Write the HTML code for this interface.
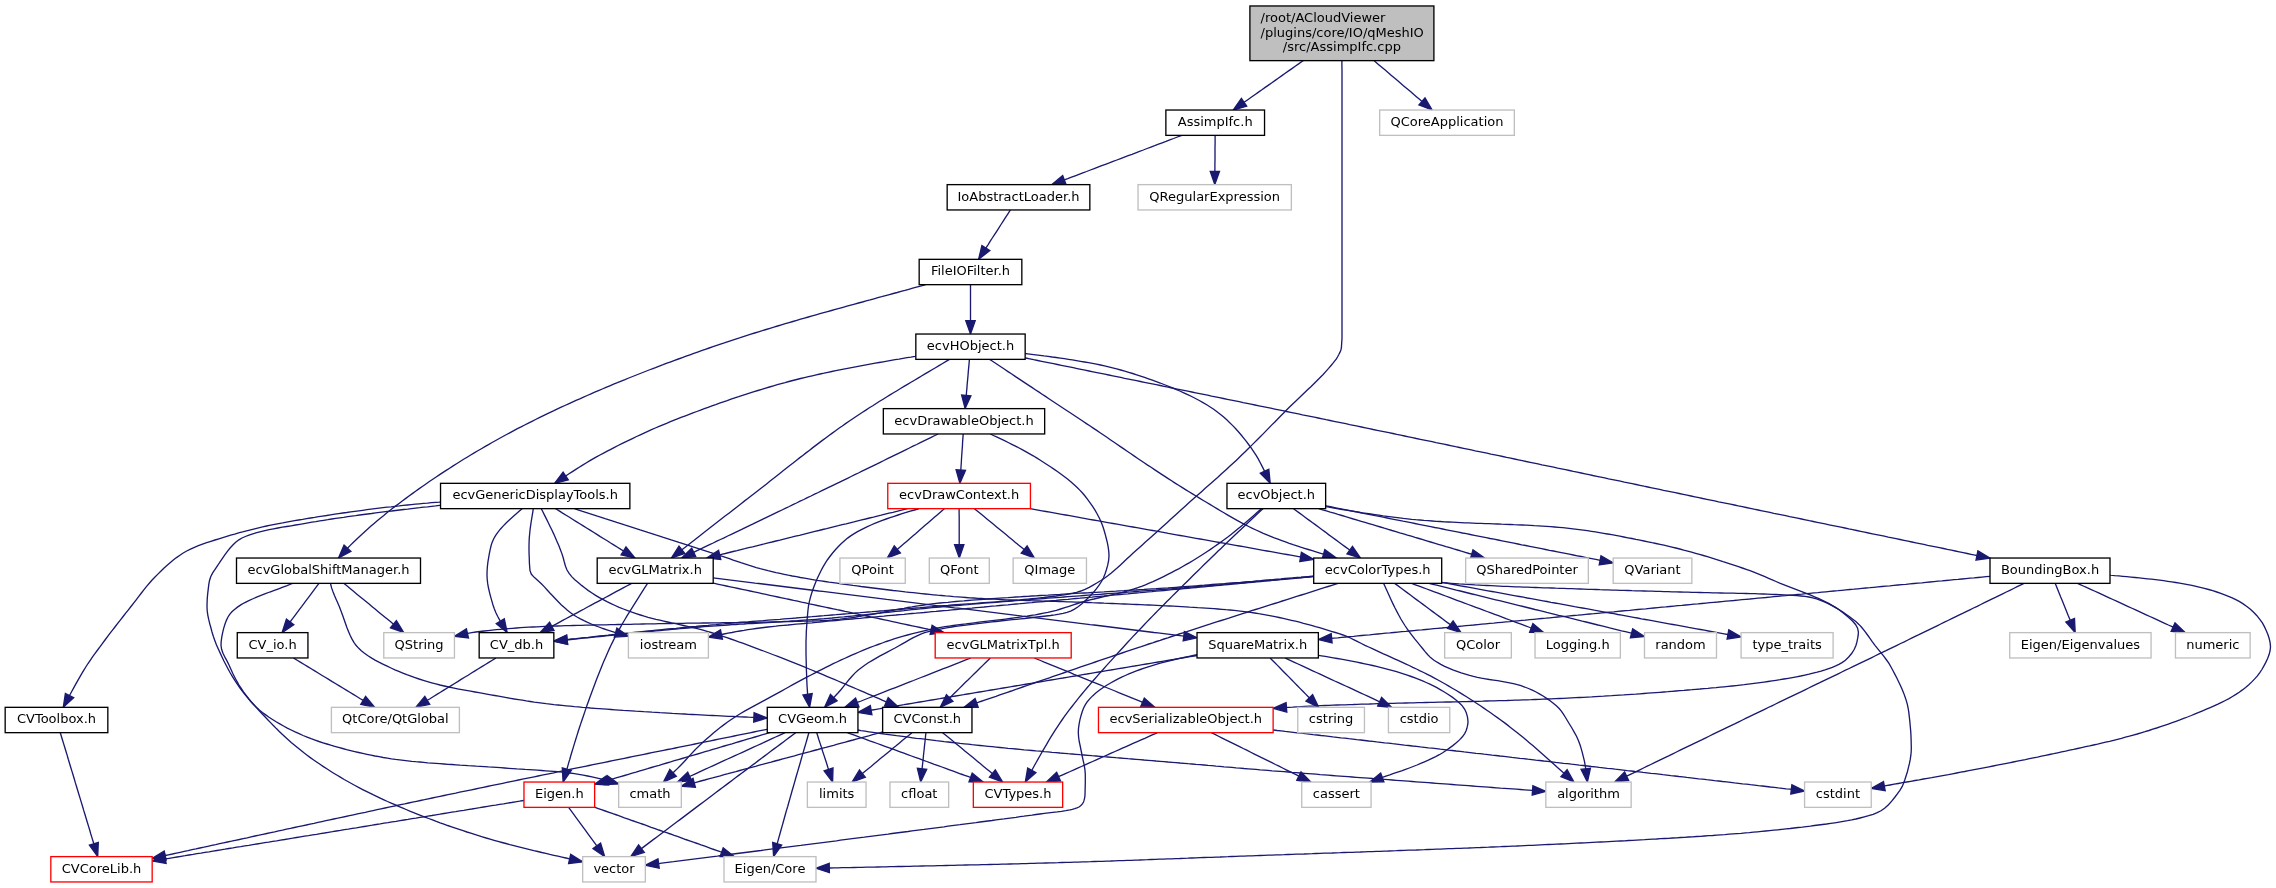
<!DOCTYPE html><html><head><meta charset="utf-8"><title>AssimpIfc.cpp include graph</title><style>html,body{margin:0;padding:0;background:#fff}svg{display:block;will-change:transform}text{font-family:"DejaVu Sans","Liberation Sans",sans-serif;font-size:13px;fill:#000}.e path{fill:none;stroke:#191970;stroke-width:1.33}.e polygon{fill:#191970;stroke:#191970;stroke-width:1.33}</style></head><body>
<svg width="2276" height="888" viewBox="0 0 2276 888">
<rect width="2276" height="888" fill="#fff"/>
<g class="e">
<path d="M1303.2,60.6 L1301.9,61.5 L1298.6,63.9 L1295.2,66.2 L1291.9,68.6 L1288.6,70.9 L1285.2,73.3 L1281.9,75.6 L1278.6,78.0 L1275.2,80.4 L1271.9,82.7 L1268.5,85.1 L1265.2,87.4 L1261.9,89.8 L1258.5,92.1 L1255.2,94.5 L1251.9,96.8 L1248.5,99.2 L1245.2,101.5 L1244.0,102.3"/><polygon points="1241.4,98.5 1233.2,110.0 1246.7,106.2"/>
<path d="M1341.9,60.6 L1341.9,61.7 L1341.9,65.8 L1342.0,69.9 L1342.0,73.9 L1342.0,78.0 L1342.0,82.1 L1342.0,86.1 L1342.0,90.2 L1342.0,94.3 L1342.0,98.3 L1342.0,102.4 L1342.0,106.4 L1342.0,110.5 L1342.0,114.6 L1342.0,118.6 L1342.0,122.7 L1342.0,126.7 L1342.0,130.8 L1342.0,134.8 L1342.0,138.8 L1342.0,142.9 L1342.0,146.9 L1342.0,150.9 L1342.0,155.0 L1342.0,159.0 L1342.0,163.1 L1342.0,167.1 L1342.0,171.1 L1342.0,175.2 L1342.0,179.2 L1342.0,183.2 L1342.0,187.3 L1342.0,191.3 L1342.0,195.3 L1342.0,199.4 L1342.0,203.4 L1342.0,207.4 L1342.0,211.5 L1342.0,215.5 L1342.0,219.5 L1342.0,223.6 L1342.0,227.6 L1342.0,231.6 L1342.0,235.7 L1342.0,239.7 L1342.0,243.8 L1342.0,247.8 L1342.0,251.8 L1342.0,255.9 L1342.0,259.9 L1342.0,263.9 L1342.0,268.0 L1342.0,272.0 L1342.0,276.2 L1342.0,280.4 L1342.0,284.6 L1342.0,288.8 L1342.0,293.0 L1342.0,297.2 L1342.0,301.4 L1342.0,305.6 L1342.0,309.8 L1342.0,314.0 L1342.0,318.2 L1342.0,322.4 L1342.0,326.6 L1342.0,330.8 L1342.0,335.0 L1342.0,338.2 L1341.8,341.4 L1341.6,344.5 L1341.4,347.6 L1340.9,350.0 L1339.9,352.4 L1338.7,354.8 L1337.5,357.0 L1336.2,359.2 L1334.6,361.2 L1333.0,363.2 L1331.3,365.2 L1328.6,368.4 L1325.7,371.6 L1322.9,374.7 L1319.9,377.7 L1316.9,380.7 L1313.9,383.7 L1310.9,386.7 L1307.8,389.6 L1304.7,392.6 L1301.6,395.5 L1298.5,398.5 L1295.4,401.4 L1292.4,404.3 L1289.3,407.3 L1286.3,410.3 L1283.4,413.3 L1280.4,416.2 L1277.5,419.2 L1274.6,422.2 L1271.6,425.1 L1268.7,428.1 L1265.8,431.1 L1262.9,434.1 L1260.0,437.0 L1257.0,440.0 L1254.1,442.9 L1251.1,445.9 L1248.2,448.8 L1245.2,451.7 L1242.2,454.6 L1239.2,457.5 L1236.2,460.4 L1233.1,463.3 L1230.0,466.1 L1226.9,469.0 L1223.8,471.8 L1220.7,474.6 L1217.6,477.5 L1214.4,480.3 L1211.3,483.1 L1208.1,485.8 L1204.9,488.6 L1201.8,491.4 L1198.6,494.2 L1195.4,497.0 L1192.3,499.8 L1189.1,502.6 L1186.0,505.4 L1182.9,508.2 L1179.8,511.0 L1176.6,513.9 L1173.5,516.7 L1170.4,519.5 L1167.3,522.4 L1164.2,525.2 L1161.1,528.0 L1157.9,530.9 L1154.8,533.7 L1151.7,536.5 L1148.6,539.3 L1145.4,542.1 L1142.3,544.9 L1139.2,547.7 L1136.0,550.5 L1132.9,553.3 L1129.8,556.2 L1126.7,559.1 L1123.6,562.0 L1120.5,564.9 L1117.4,567.8 L1114.2,570.6 L1111.0,573.3 L1107.8,575.8 L1104.4,578.3 L1101.0,580.5 L1097.2,582.8 L1093.2,585.1 L1089.2,587.3 L1085.0,589.3 L1080.8,591.0 L1076.6,592.3 L1072.6,593.2 L1068.6,594.0 L1064.5,594.8 L1060.3,595.4 L1056.1,596.0 L1051.9,596.5 L1047.8,597.0 L1043.8,597.5 L1039.9,597.9 L1035.9,598.3 L1031.9,598.7 L1027.9,599.1 L1023.9,599.5 L1019.9,599.9 L1016.0,600.2 L1012.0,600.5 L1008.0,600.9 L1004.0,601.2 L1000.0,601.5 L996.0,601.8 L992.0,602.1 L988.0,602.4 L984.0,602.7 L980.0,603.0 L976.0,603.3 L972.0,603.6 L968.0,603.8 L964.0,604.1 L960.0,604.4 L956.0,604.7 L952.0,605.0 L948.0,605.4 L944.0,605.7 L940.0,606.0 L936.0,606.3 L932.0,606.7 L928.0,607.0 L924.0,607.3 L920.0,607.7 L916.0,608.0 L912.0,608.3 L908.0,608.7 L904.0,609.0 L900.0,609.3 L896.0,609.7 L892.0,610.0 L888.0,610.3 L884.0,610.7 L880.0,611.0 L876.0,611.3 L872.0,611.7 L868.0,612.0 L864.0,612.3 L860.0,612.7 L856.0,613.0 L852.0,613.3 L848.0,613.7 L844.0,614.0 L840.0,614.3 L836.0,614.7 L832.0,615.0 L828.0,615.3 L824.0,615.7 L820.0,616.0 L816.0,616.3 L812.0,616.7 L808.0,617.0 L804.0,617.3 L800.0,617.6 L796.0,618.0 L792.0,618.3 L788.0,618.6 L784.0,618.9 L780.0,619.3 L776.0,619.6 L772.0,619.9 L768.0,620.2 L764.0,620.6 L760.0,620.9 L756.0,621.2 L752.0,621.5 L748.0,621.9 L744.0,622.2 L740.0,622.5 L736.0,622.9 L732.0,623.2 L728.0,623.5 L724.0,623.9 L720.0,624.2 L716.0,624.6 L712.0,624.9 L708.0,625.3 L704.0,625.6 L700.0,626.0 L696.0,626.4 L692.0,626.7 L688.0,627.1 L684.0,627.5 L680.0,627.9 L676.0,628.3 L672.0,628.6 L668.0,629.0 L664.0,629.4 L660.0,629.8 L656.0,630.2 L652.0,630.6 L648.0,631.0 L644.0,631.4 L640.0,631.8 L636.0,632.2 L632.0,632.7 L628.0,633.1 L624.0,633.5 L620.0,633.9 L616.0,634.3 L612.0,634.7 L608.0,635.2 L604.0,635.6 L600.0,636.0 L596.0,636.4 L592.0,636.8 L588.1,637.3 L584.1,637.7 L580.1,638.1 L576.1,638.6 L572.2,639.0 L568.2,639.5 L567.1,639.6"/><polygon points="566.6,635.0 553.8,641.1 567.6,644.2"/>
<path d="M1374.0,60.6 L1375.9,62.2 L1379.0,64.9 L1382.1,67.5 L1385.2,70.1 L1388.3,72.7 L1391.4,75.4 L1394.5,78.0 L1397.5,80.6 L1400.6,83.3 L1403.7,85.9 L1406.8,88.5 L1409.9,91.1 L1413.0,93.8 L1416.1,96.4 L1419.2,99.0 L1422.0,101.4"/><polygon points="1418.9,104.9 1432.1,110.0 1425.0,97.8"/>
<path d="M1181.8,135.4 L1181.2,135.6 L1177.4,137.0 L1173.6,138.5 L1169.8,139.9 L1166.0,141.4 L1162.2,142.8 L1158.5,144.2 L1154.7,145.7 L1150.9,147.1 L1147.1,148.5 L1143.3,150.0 L1139.5,151.4 L1135.8,152.8 L1132.0,154.3 L1128.2,155.7 L1124.4,157.1 L1120.6,158.6 L1116.9,160.0 L1113.1,161.4 L1109.3,162.9 L1105.5,164.3 L1101.7,165.7 L1097.9,167.2 L1094.2,168.6 L1090.4,170.0 L1086.6,171.5 L1082.8,172.9 L1079.0,174.3 L1075.2,175.8 L1071.5,177.2 L1067.7,178.7 L1064.4,179.9"/><polygon points="1062.7,175.5 1051.9,184.6 1066.0,184.3"/>
<path d="M1215.1,135.4 L1215.1,139.3 L1215.1,143.4 L1215.0,147.6 L1215.0,151.7 L1215.0,155.9 L1215.0,160.0 L1214.9,164.1 L1214.9,168.3 L1214.9,171.3"/><polygon points="1210.2,171.3 1214.8,184.6 1219.5,171.3"/>
<path d="M1010.4,210.0 L1009.8,210.9 L1007.6,214.3 L1005.4,217.7 L1003.2,221.1 L1001.0,224.5 L998.9,227.9 L996.7,231.3 L994.5,234.7 L992.3,238.0 L990.1,241.4 L988.0,244.8 L985.8,248.1"/><polygon points="981.9,245.6 978.6,259.3 989.8,250.6"/>
<path d="M970.5,284.7 L970.5,288.6 L970.5,292.8 L970.5,296.9 L970.5,301.0 L970.5,305.2 L970.5,309.4 L970.5,313.5 L970.5,317.6 L970.5,320.7"/><polygon points="965.8,320.7 970.5,334.0 975.2,320.7"/>
<path d="M925.6,284.7 L924.2,285.1 L920.4,286.1 L916.5,287.2 L912.7,288.2 L908.8,289.3 L904.9,290.4 L901.0,291.4 L897.2,292.5 L893.3,293.5 L889.4,294.6 L885.6,295.6 L881.7,296.7 L877.8,297.7 L874.0,298.8 L870.1,299.9 L866.2,300.9 L862.4,302.0 L858.5,303.0 L854.6,304.1 L850.8,305.1 L846.9,306.2 L843.0,307.3 L839.2,308.3 L835.3,309.4 L831.5,310.5 L827.6,311.6 L823.7,312.7 L819.9,313.7 L816.0,314.8 L812.2,315.9 L808.3,317.0 L804.5,318.1 L800.6,319.2 L796.8,320.3 L792.9,321.5 L789.1,322.6 L785.3,323.7 L781.4,324.9 L777.6,326.0 L773.8,327.2 L770.0,328.3 L766.1,329.5 L762.3,330.7 L758.5,331.8 L754.7,333.0 L750.9,334.2 L747.1,335.4 L743.3,336.6 L739.5,337.9 L735.7,339.1 L731.9,340.3 L728.1,341.6 L724.3,342.9 L720.5,344.1 L716.8,345.4 L713.0,346.7 L709.2,348.0 L705.3,349.4 L701.5,350.7 L697.6,352.1 L693.8,353.4 L690.0,354.8 L686.1,356.2 L682.3,357.6 L678.4,359.0 L674.6,360.4 L670.8,361.8 L666.9,363.2 L663.1,364.7 L659.3,366.1 L655.5,367.6 L651.6,369.0 L647.8,370.5 L644.0,372.0 L640.2,373.5 L636.4,375.0 L632.6,376.5 L628.8,378.0 L625.0,379.6 L621.2,381.1 L617.4,382.7 L613.6,384.2 L609.8,385.8 L606.0,387.4 L602.3,389.0 L598.5,390.6 L594.7,392.2 L591.0,393.8 L587.2,395.5 L583.5,397.1 L579.8,398.8 L576.0,400.4 L572.3,402.1 L568.6,403.8 L564.9,405.5 L561.2,407.2 L557.5,408.9 L553.9,410.7 L550.2,412.4 L546.5,414.2 L542.9,415.9 L539.3,417.7 L535.6,419.5 L532.0,421.3 L528.4,423.1 L524.7,425.0 L521.1,426.9 L517.4,428.7 L513.8,430.7 L510.2,432.6 L506.6,434.5 L502.9,436.5 L499.3,438.5 L495.7,440.5 L492.1,442.5 L488.5,444.6 L484.9,446.6 L481.4,448.7 L477.8,450.8 L474.2,452.9 L470.7,455.0 L467.1,457.2 L463.6,459.3 L460.1,461.5 L456.6,463.7 L453.1,465.9 L449.6,468.2 L446.2,470.4 L442.7,472.6 L439.3,474.9 L435.8,477.2 L432.4,479.5 L429.0,481.8 L425.6,484.2 L422.3,486.5 L418.9,488.9 L415.6,491.2 L412.3,493.6 L409.0,496.0 L405.8,498.4 L402.6,500.8 L399.4,503.2 L396.2,505.6 L393.0,508.1 L389.8,510.6 L386.6,513.1 L383.5,515.7 L380.3,518.2 L377.2,520.8 L374.1,523.5 L371.0,526.1 L368.0,528.8 L365.0,531.5 L362.0,534.2 L359.0,537.0 L356.1,539.7 L353.2,542.5 L350.3,545.4 L347.5,548.2 L347.5,548.2"/><polygon points="344.1,545.1 338.5,558.0 350.9,551.4"/>
<path d="M915.8,356.2 L915.0,356.4 L911.0,357.1 L907.0,357.7 L903.0,358.4 L899.1,359.1 L895.1,359.7 L891.1,360.4 L887.1,361.1 L883.2,361.8 L879.2,362.5 L875.2,363.2 L871.3,363.9 L867.3,364.6 L863.4,365.3 L859.4,366.1 L855.5,366.8 L851.5,367.6 L847.6,368.3 L843.6,369.1 L839.7,369.9 L835.8,370.7 L831.8,371.5 L827.9,372.3 L824.0,373.2 L820.1,374.0 L816.2,374.9 L812.3,375.8 L808.4,376.7 L804.5,377.6 L800.6,378.5 L796.7,379.5 L792.8,380.5 L788.9,381.5 L785.1,382.6 L781.2,383.6 L777.3,384.7 L773.4,385.8 L769.5,387.0 L765.7,388.1 L761.8,389.3 L757.9,390.5 L754.1,391.7 L750.2,392.9 L746.4,394.1 L742.5,395.4 L738.7,396.7 L734.8,397.9 L731.0,399.2 L727.2,400.6 L723.4,401.9 L719.5,403.2 L715.7,404.6 L711.9,405.9 L708.1,407.3 L704.3,408.7 L700.6,410.1 L696.8,411.5 L693.0,412.9 L689.2,414.4 L685.5,415.8 L681.7,417.2 L678.0,418.7 L674.2,420.2 L670.4,421.7 L666.6,423.3 L662.8,424.8 L659.1,426.4 L655.3,428.0 L651.5,429.7 L647.8,431.4 L644.0,433.1 L640.3,434.8 L636.6,436.5 L632.9,438.3 L629.2,440.1 L625.5,441.9 L621.8,443.7 L618.1,445.5 L614.5,447.4 L610.8,449.3 L607.2,451.2 L603.6,453.1 L600.0,455.0 L596.5,456.9 L593.0,458.9 L589.5,460.9 L586.1,463.0 L582.6,465.1 L579.2,467.2 L575.8,469.4 L572.4,471.6 L569.0,473.8 L565.7,476.0"/><polygon points="563.1,472.1 554.6,483.3 568.3,479.9"/>
<path d="M949.5,359.4 L946.1,361.4 L942.6,363.5 L939.0,365.6 L935.5,367.7 L932.0,369.8 L928.5,371.8 L925.0,373.9 L921.5,376.0 L918.0,378.1 L914.5,380.2 L911.0,382.3 L907.5,384.3 L904.0,386.4 L900.5,388.5 L897.0,390.7 L893.5,392.8 L890.0,394.9 L886.6,397.0 L883.1,399.2 L879.6,401.3 L876.2,403.5 L872.8,405.7 L869.3,407.8 L865.9,410.1 L862.5,412.3 L859.1,414.5 L855.7,416.8 L852.4,419.0 L849.0,421.3 L845.6,423.6 L842.3,426.0 L838.9,428.3 L835.6,430.7 L832.3,433.1 L829.0,435.5 L825.7,438.0 L822.4,440.4 L819.1,442.9 L815.8,445.4 L812.5,447.9 L809.3,450.4 L806.0,452.9 L802.8,455.4 L799.5,457.9 L796.3,460.4 L793.1,463.0 L789.8,465.5 L786.6,468.1 L783.4,470.6 L780.1,473.2 L776.9,475.7 L773.7,478.3 L770.4,480.8 L767.2,483.4 L764.0,485.9 L760.7,488.4 L757.5,491.0 L754.3,493.5 L751.0,496.0 L747.8,498.5 L744.6,500.9 L741.4,503.4 L738.2,505.9 L735.0,508.4 L731.8,510.9 L728.6,513.4 L725.4,515.8 L722.2,518.3 L719.0,520.8 L715.8,523.3 L712.6,525.8 L709.4,528.3 L706.2,530.8 L703.0,533.3 L699.9,535.8 L696.7,538.3 L693.5,540.8 L690.3,543.3 L687.1,545.8 L683.9,548.3 L681.9,549.8"/><polygon points="679.0,546.1 671.4,558.0 684.8,553.5"/>
<path d="M969.4,359.4 L969.1,363.3 L968.7,367.4 L968.3,371.6 L968.0,375.7 L967.6,379.9 L967.2,384.0 L966.9,388.1 L966.5,392.3 L966.3,395.4"/><polygon points="961.6,394.9 965.1,408.6 970.9,395.8"/>
<path d="M989.6,359.4 L991.0,360.3 L994.4,362.5 L997.8,364.8 L1001.2,367.0 L1004.6,369.3 L1008.0,371.6 L1011.4,373.8 L1014.8,376.1 L1018.2,378.4 L1021.6,380.6 L1025.0,382.9 L1028.4,385.1 L1031.9,387.4 L1035.3,389.7 L1038.7,391.9 L1042.1,394.2 L1045.5,396.4 L1048.9,398.7 L1052.3,401.0 L1055.7,403.2 L1059.1,405.5 L1062.5,407.7 L1065.9,410.0 L1069.4,412.3 L1072.8,414.5 L1076.2,416.8 L1079.6,419.0 L1083.0,421.3 L1086.4,423.6 L1089.8,425.8 L1093.2,428.1 L1096.7,430.4 L1100.1,432.7 L1103.5,435.0 L1106.9,437.3 L1110.3,439.7 L1113.7,442.0 L1117.0,444.3 L1120.4,446.6 L1123.8,448.9 L1127.2,451.2 L1130.6,453.5 L1134.0,455.9 L1137.4,458.2 L1140.8,460.5 L1144.2,462.8 L1147.6,465.1 L1151.1,467.3 L1154.5,469.6 L1157.9,471.9 L1161.3,474.1 L1164.8,476.4 L1168.2,478.6 L1171.6,480.8 L1175.1,483.1 L1178.6,485.3 L1182.0,487.4 L1185.5,489.6 L1189.0,491.8 L1192.5,493.9 L1196.0,496.0 L1199.5,498.1 L1202.9,500.2 L1206.4,502.3 L1209.9,504.4 L1213.4,506.5 L1216.9,508.6 L1220.4,510.7 L1223.9,512.8 L1227.4,514.9 L1230.9,516.9 L1234.4,518.9 L1238.0,520.9 L1241.6,522.8 L1245.1,524.7 L1248.7,526.5 L1252.4,528.3 L1256.0,530.0 L1259.6,531.7 L1263.3,533.3 L1267.0,534.8 L1270.6,536.3 L1274.3,537.8 L1278.0,539.2 L1281.8,540.6 L1285.5,541.9 L1289.3,543.3 L1293.1,544.6 L1296.9,545.8 L1300.7,547.1 L1304.5,548.3 L1308.3,549.5 L1312.2,550.7 L1316.0,551.9 L1319.9,553.1 L1323.5,554.2"/><polygon points="1322.2,558.7 1336.3,558.0 1324.8,549.7"/>
<path d="M1025.2,353.5 L1027.7,353.8 L1031.7,354.3 L1035.8,354.8 L1039.9,355.3 L1044.0,355.9 L1048.1,356.4 L1052.1,357.0 L1056.2,357.5 L1060.3,358.1 L1064.3,358.7 L1068.4,359.3 L1072.4,359.9 L1076.4,360.6 L1080.5,361.3 L1084.5,362.0 L1088.5,362.7 L1092.5,363.4 L1096.5,364.2 L1100.5,365.0 L1104.6,365.9 L1108.6,366.9 L1112.6,367.9 L1116.7,368.9 L1120.7,370.0 L1124.7,371.1 L1128.7,372.3 L1132.7,373.5 L1136.7,374.8 L1140.6,376.1 L1144.6,377.4 L1148.5,378.8 L1152.4,380.2 L1156.3,381.6 L1160.2,383.0 L1164.0,384.5 L1167.9,386.0 L1171.9,387.6 L1175.9,389.3 L1179.8,391.0 L1183.8,392.8 L1187.7,394.6 L1191.7,396.5 L1195.5,398.5 L1199.3,400.5 L1203.0,402.6 L1206.7,404.8 L1210.2,407.0 L1213.7,409.3 L1217.0,411.7 L1220.2,414.2 L1223.4,416.8 L1226.5,419.5 L1229.5,422.4 L1232.5,425.4 L1235.5,428.5 L1238.4,431.7 L1241.2,435.0 L1243.9,438.3 L1246.5,441.6 L1249.0,445.0 L1251.5,448.4 L1253.8,451.8 L1256.0,455.2 L1258.1,458.7 L1260.0,462.3 L1261.9,465.9 L1263.8,469.6 L1264.6,471.3"/><polygon points="1260.3,473.2 1270.2,483.3 1268.8,469.3"/>
<path d="M1025.2,357.9 L1025.8,358.0 L1029.8,358.8 L1033.7,359.7 L1037.7,360.5 L1041.6,361.3 L1045.6,362.1 L1049.5,362.9 L1053.5,363.7 L1057.4,364.5 L1061.4,365.3 L1065.3,366.1 L1069.3,366.9 L1073.2,367.7 L1077.2,368.6 L1081.1,369.4 L1085.1,370.2 L1089.0,371.0 L1093.0,371.8 L1096.9,372.6 L1100.9,373.4 L1104.8,374.2 L1108.8,375.0 L1112.8,375.8 L1116.7,376.6 L1120.7,377.4 L1124.6,378.3 L1128.6,379.1 L1132.5,379.9 L1136.5,380.7 L1140.4,381.5 L1144.4,382.3 L1148.3,383.1 L1152.3,383.9 L1156.2,384.7 L1160.2,385.5 L1164.1,386.3 L1168.1,387.1 L1172.0,388.0 L1176.0,388.8 L1179.9,389.6 L1183.9,390.4 L1187.8,391.2 L1191.8,392.0 L1195.7,392.8 L1199.7,393.6 L1203.6,394.4 L1207.6,395.2 L1211.5,396.1 L1215.5,396.9 L1219.4,397.7 L1223.4,398.5 L1227.3,399.3 L1231.3,400.1 L1235.2,400.9 L1239.2,401.7 L1243.1,402.6 L1247.1,403.4 L1251.0,404.2 L1255.0,405.0 L1258.9,405.8 L1262.9,406.6 L1266.8,407.4 L1270.8,408.2 L1274.8,409.1 L1278.7,409.9 L1282.7,410.7 L1286.6,411.5 L1290.6,412.3 L1294.5,413.1 L1298.5,413.9 L1302.4,414.8 L1306.4,415.6 L1310.3,416.4 L1314.3,417.2 L1318.2,418.0 L1322.2,418.8 L1326.1,419.7 L1330.1,420.5 L1334.0,421.3 L1337.9,422.1 L1341.8,422.9 L1345.8,423.7 L1349.7,424.6 L1353.6,425.4 L1357.5,426.2 L1361.5,427.0 L1365.4,427.8 L1369.3,428.6 L1373.2,429.5 L1377.2,430.3 L1381.1,431.1 L1385.0,431.9 L1388.9,432.7 L1392.9,433.5 L1396.8,434.4 L1400.7,435.2 L1404.6,436.0 L1408.6,436.8 L1412.5,437.6 L1416.4,438.5 L1420.3,439.3 L1424.2,440.1 L1428.2,440.9 L1432.1,441.7 L1436.0,442.6 L1439.9,443.4 L1443.9,444.2 L1447.8,445.0 L1451.7,445.8 L1455.6,446.7 L1459.6,447.5 L1463.5,448.3 L1467.4,449.1 L1471.3,449.9 L1475.2,450.8 L1479.2,451.6 L1483.1,452.4 L1487.0,453.2 L1490.9,454.1 L1494.9,454.9 L1498.8,455.7 L1502.7,456.5 L1506.6,457.4 L1510.6,458.2 L1514.5,459.0 L1518.4,459.8 L1522.3,460.6 L1526.2,461.5 L1530.2,462.3 L1534.1,463.1 L1538.0,463.9 L1541.9,464.8 L1545.9,465.6 L1549.8,466.4 L1553.7,467.2 L1557.6,468.1 L1561.5,468.9 L1565.5,469.7 L1569.4,470.5 L1573.3,471.4 L1577.2,472.2 L1581.2,473.0 L1585.1,473.8 L1589.0,474.6 L1592.9,475.5 L1596.8,476.3 L1600.8,477.1 L1604.7,477.9 L1608.6,478.8 L1612.5,479.6 L1616.5,480.4 L1620.4,481.2 L1624.3,482.1 L1628.2,482.9 L1632.2,483.7 L1636.1,484.5 L1640.0,485.3 L1643.9,486.2 L1647.8,487.0 L1651.8,487.8 L1655.7,488.6 L1659.6,489.4 L1663.5,490.3 L1667.5,491.1 L1671.4,491.9 L1675.3,492.7 L1679.2,493.5 L1683.2,494.4 L1687.1,495.2 L1691.0,496.0 L1694.9,496.8 L1698.9,497.6 L1702.8,498.5 L1706.8,499.3 L1710.7,500.1 L1714.7,500.9 L1718.6,501.8 L1722.6,502.6 L1726.5,503.4 L1730.4,504.2 L1734.4,505.0 L1738.3,505.9 L1742.3,506.7 L1746.2,507.5 L1750.2,508.3 L1754.1,509.2 L1758.1,510.0 L1762.0,510.8 L1766.0,511.6 L1769.9,512.4 L1773.8,513.3 L1777.8,514.1 L1781.7,514.9 L1785.7,515.7 L1789.6,516.6 L1793.6,517.4 L1797.5,518.2 L1801.5,519.0 L1805.4,519.8 L1809.3,520.7 L1813.3,521.5 L1817.2,522.3 L1821.2,523.1 L1825.1,523.9 L1829.1,524.8 L1833.0,525.6 L1837.0,526.4 L1840.9,527.2 L1844.9,528.0 L1848.8,528.9 L1852.7,529.7 L1856.7,530.5 L1860.6,531.3 L1864.6,532.1 L1868.5,533.0 L1872.5,533.8 L1876.4,534.6 L1880.4,535.4 L1884.3,536.2 L1888.2,537.1 L1892.2,537.9 L1896.1,538.7 L1900.1,539.5 L1904.0,540.3 L1908.0,541.2 L1911.9,542.0 L1915.9,542.8 L1919.8,543.6 L1923.8,544.4 L1927.7,545.3 L1931.6,546.1 L1935.6,546.9 L1939.5,547.7 L1943.5,548.5 L1947.4,549.4 L1951.4,550.2 L1955.3,551.0 L1959.3,551.8 L1963.2,552.6 L1967.2,553.5 L1971.1,554.3 L1975.0,555.1 L1976.9,555.5"/><polygon points="1976.0,560.1 1990.0,558.2 1977.9,550.9"/>
<path d="M938.1,434.0 L934.9,435.5 L931.2,437.3 L927.6,439.1 L923.9,440.9 L920.3,442.7 L916.7,444.5 L913.0,446.2 L909.4,448.0 L905.7,449.8 L902.1,451.6 L898.5,453.4 L894.8,455.2 L891.2,456.9 L887.5,458.7 L883.9,460.5 L880.2,462.3 L876.6,464.1 L873.0,465.8 L869.3,467.6 L865.7,469.4 L862.0,471.2 L858.4,473.0 L854.8,474.7 L851.1,476.5 L847.5,478.3 L843.8,480.1 L840.2,481.8 L836.5,483.6 L832.9,485.4 L829.2,487.2 L825.6,488.9 L821.9,490.7 L818.3,492.5 L814.6,494.2 L811.0,496.0 L807.4,497.7 L803.8,499.5 L800.1,501.2 L796.5,503.0 L792.9,504.7 L789.3,506.5 L785.7,508.2 L782.0,510.0 L778.4,511.7 L774.8,513.4 L771.2,515.2 L767.6,516.9 L763.9,518.7 L760.3,520.4 L756.7,522.1 L753.1,523.9 L749.4,525.6 L745.8,527.3 L742.2,529.1 L738.6,530.8 L734.9,532.6 L731.3,534.3 L727.7,536.0 L724.1,537.8 L720.4,539.5 L716.8,541.2 L713.2,543.0 L709.6,544.7 L705.9,546.4 L702.3,548.2 L698.7,549.9 L695.1,551.6 L693.7,552.3"/><polygon points="691.7,548.1 681.7,558.0 695.7,556.5"/>
<path d="M963.2,434.0 L962.9,437.9 L962.6,442.1 L962.4,446.2 L962.1,450.3 L961.8,454.5 L961.5,458.7 L961.3,462.8 L961.0,467.0 L960.8,470.0"/><polygon points="956.1,469.7 959.9,483.3 965.5,470.3"/>
<path d="M990.3,434.0 L993.4,435.5 L997.1,437.2 L1000.8,438.9 L1004.5,440.7 L1008.2,442.5 L1011.8,444.3 L1015.5,446.1 L1019.1,448.0 L1022.6,449.9 L1026.2,451.8 L1029.7,453.8 L1033.2,455.8 L1036.6,457.9 L1040.0,460.0 L1043.4,462.2 L1046.9,464.5 L1050.4,466.8 L1053.9,469.1 L1057.4,471.5 L1060.8,474.0 L1064.2,476.5 L1067.5,479.1 L1070.8,481.8 L1073.9,484.5 L1076.9,487.2 L1079.8,490.1 L1082.5,493.0 L1085.0,496.0 L1087.6,499.3 L1090.1,502.8 L1092.6,506.4 L1095.0,510.1 L1097.2,514.0 L1099.3,518.0 L1101.1,522.0 L1102.7,526.0 L1104.0,530.0 L1105.2,534.2 L1106.3,538.5 L1107.4,542.8 L1108.2,547.2 L1108.8,551.6 L1109.0,556.0 L1108.6,560.6 L1107.7,565.2 L1106.4,569.7 L1105.0,574.0 L1103.5,577.8 L1101.5,581.5 L1099.1,585.2 L1096.5,588.7 L1093.8,592.0 L1091.0,595.0 L1088.1,598.0 L1084.9,601.0 L1081.6,604.0 L1078.1,606.7 L1074.5,609.1 L1070.7,611.1 L1067.0,612.4 L1063.1,613.4 L1059.0,614.2 L1054.8,614.9 L1050.5,615.5 L1046.2,616.0 L1041.8,616.5 L1037.4,617.0 L1033.0,617.5 L1028.7,618.0 L1024.6,618.5 L1020.5,618.9 L1016.4,619.3 L1012.3,619.7 L1008.2,620.1 L1004.1,620.5 L1000.0,621.0 L996.0,621.5 L992.0,621.9 L988.0,622.4 L983.9,622.8 L979.9,623.3 L975.9,623.8 L971.8,624.3 L967.8,624.8 L963.7,625.3 L959.7,625.8 L955.7,626.4 L951.8,627.0 L947.8,627.6 L943.9,628.3 L940.0,629.1 L936.1,629.9 L932.3,630.7 L928.5,631.6 L924.6,632.7 L920.8,634.2 L917.1,635.8 L913.3,637.7 L909.6,639.7 L905.9,641.8 L902.3,643.9 L898.6,646.0 L895.0,648.0 L891.2,650.0 L887.3,652.1 L883.5,654.1 L879.6,656.2 L875.8,658.4 L872.0,660.6 L868.3,662.8 L864.7,665.2 L861.3,667.7 L858.0,670.3 L854.9,673.1 L852.0,676.2 L849.1,679.5 L846.4,682.9 L843.6,686.3 L840.9,689.7 L838.0,693.0 L835.2,696.0 L833.8,697.6"/><polygon points="830.4,694.4 824.6,707.3 837.1,700.8"/>
<path d="M440.5,501.9 L439.6,502.0 L435.6,502.3 L431.5,502.7 L427.5,503.1 L423.4,503.4 L419.4,503.8 L415.4,504.2 L411.3,504.6 L407.3,505.0 L403.2,505.4 L399.2,505.9 L395.1,506.3 L391.1,506.8 L387.1,507.2 L383.0,507.7 L379.0,508.2 L374.9,508.7 L370.9,509.2 L366.9,509.7 L362.8,510.3 L358.8,510.8 L354.8,511.3 L350.7,511.9 L346.7,512.5 L342.7,513.0 L338.7,513.6 L334.7,514.2 L330.6,514.8 L326.6,515.5 L322.6,516.1 L318.6,516.7 L314.6,517.4 L310.6,518.0 L306.6,518.7 L302.6,519.4 L298.6,520.0 L294.6,520.7 L290.6,521.4 L286.6,522.1 L282.7,522.9 L278.7,523.6 L274.7,524.4 L270.7,525.2 L266.6,526.0 L262.6,526.9 L258.6,527.8 L254.6,528.8 L250.6,529.8 L246.6,530.8 L242.6,531.9 L238.6,532.9 L234.7,534.1 L230.7,535.2 L226.8,536.4 L222.8,537.6 L218.9,538.8 L215.0,540.0 L210.9,541.3 L206.7,542.7 L202.5,544.2 L198.4,545.7 L194.4,547.3 L190.5,549.1 L186.7,551.0 L183.2,553.0 L179.9,555.2 L176.5,557.6 L173.3,560.1 L170.1,562.8 L166.9,565.5 L163.8,568.3 L160.8,571.2 L157.9,574.1 L155.0,577.0 L152.1,580.0 L149.3,583.2 L146.6,586.4 L144.0,589.7 L141.4,593.0 L138.8,596.4 L136.2,599.8 L133.6,603.2 L131.0,606.5 L128.4,609.8 L125.7,613.1 L123.1,616.5 L120.5,619.8 L117.9,623.1 L115.3,626.5 L112.7,629.9 L110.1,633.2 L107.5,636.6 L105.0,640.0 L102.5,643.3 L100.1,646.7 L97.6,650.0 L95.1,653.3 L92.7,656.7 L90.4,660.1 L88.0,663.5 L85.8,667.0 L83.7,670.4 L81.6,673.9 L79.6,677.3 L77.6,680.8 L75.6,684.4 L73.7,687.9 L71.7,691.5 L69.8,695.0 L69.6,695.5"/><polygon points="65.4,693.4 63.3,707.3 73.7,697.7"/>
<path d="M440.5,505.3 L439.6,505.4 L435.6,505.9 L431.6,506.3 L427.6,506.8 L423.6,507.2 L419.6,507.7 L415.6,508.1 L411.6,508.6 L407.6,509.1 L403.6,509.5 L399.6,510.0 L395.6,510.5 L391.6,511.0 L387.6,511.4 L383.6,511.9 L379.6,512.4 L375.6,512.9 L371.6,513.5 L367.6,514.0 L363.6,514.5 L359.6,515.0 L355.6,515.6 L351.6,516.1 L347.7,516.7 L343.7,517.3 L339.7,517.8 L335.7,518.4 L331.7,519.0 L327.8,519.7 L323.8,520.3 L319.8,520.9 L315.9,521.6 L311.9,522.2 L308.0,522.9 L304.0,523.6 L299.8,524.3 L295.5,525.0 L291.1,525.8 L286.7,526.5 L282.3,527.2 L277.9,528.0 L273.5,528.8 L269.2,529.7 L264.9,530.6 L260.8,531.6 L256.7,532.7 L252.8,533.9 L249.0,535.1 L245.4,536.5 L242.0,538.0 L238.9,539.8 L236.0,542.0 L233.1,544.8 L230.3,547.8 L227.6,551.1 L225.0,554.6 L222.6,558.1 L220.2,561.6 L218.0,565.0 L215.4,568.8 L212.8,572.7 L210.7,576.8 L209.4,581.0 L208.7,585.1 L208.2,589.3 L207.7,593.6 L207.3,597.9 L207.1,602.2 L207.0,606.5 L207.2,610.8 L207.8,615.1 L208.7,619.4 L209.7,623.6 L210.9,627.8 L212.0,632.0 L213.3,636.3 L214.8,640.5 L216.4,644.7 L218.2,648.8 L220.1,652.9 L222.0,657.0 L223.9,661.0 L226.0,665.0 L228.1,669.0 L230.3,673.0 L232.6,676.8 L235.0,680.7 L237.5,684.4 L240.0,688.0 L242.5,691.3 L245.0,694.7 L247.7,697.9 L250.5,701.2 L253.3,704.3 L256.3,707.2 L259.3,710.0 L262.4,712.5 L265.7,714.9 L269.0,717.2 L272.5,719.5 L276.1,721.8 L279.8,723.9 L283.5,726.0 L287.3,728.1 L291.2,730.0 L295.1,731.9 L299.1,733.7 L303.1,735.5 L307.1,737.1 L311.1,738.7 L315.1,740.1 L319.0,741.5 L323.0,742.8 L326.9,744.0 L330.8,745.2 L334.7,746.3 L338.6,747.4 L342.6,748.5 L346.6,749.6 L350.6,750.6 L354.7,751.6 L358.7,752.5 L362.8,753.4 L366.9,754.3 L371.0,755.2 L375.0,756.0 L379.1,756.7 L383.2,757.5 L387.3,758.1 L391.4,758.8 L395.5,759.4 L399.6,759.9 L403.7,760.4 L407.7,760.8 L411.7,761.3 L415.7,761.7 L419.7,762.0 L423.7,762.4 L427.8,762.8 L431.8,763.1 L435.8,763.4 L439.9,763.7 L443.9,764.0 L447.9,764.3 L452.0,764.5 L456.0,764.8 L460.1,765.1 L464.1,765.3 L468.2,765.6 L472.2,765.8 L476.3,766.1 L480.3,766.3 L484.4,766.6 L488.4,766.9 L492.5,767.1 L496.5,767.4 L500.6,767.7 L504.6,768.0 L508.7,768.3 L512.8,768.6 L516.9,768.9 L521.0,769.1 L525.1,769.4 L529.2,769.6 L533.3,769.9 L537.4,770.2 L541.5,770.5 L545.6,770.8 L549.7,771.1 L553.7,771.4 L557.8,771.7 L561.9,772.1 L565.9,772.5 L570.0,773.0 L574.4,773.6 L578.8,774.3 L583.2,775.1 L587.6,776.0 L592.0,776.9 L596.3,777.9 L600.7,778.9 L605.0,780.0 L605.9,780.2"/><polygon points="604.6,784.7 618.7,783.9 607.2,775.7"/>
<path d="M522.1,508.7 L519.4,511.1 L516.0,514.0 L512.6,517.0 L509.3,520.0 L506.1,523.0 L503.1,526.1 L500.3,529.2 L497.8,532.4 L495.5,535.6 L493.6,539.0 L492.1,542.4 L491.0,546.0 L490.1,549.8 L489.3,553.8 L488.6,557.9 L487.9,562.2 L487.4,566.5 L487.1,570.8 L487.0,575.0 L487.2,579.3 L487.7,583.7 L488.5,588.0 L489.5,592.3 L490.6,596.6 L491.8,600.9 L493.0,605.0 L494.3,608.8 L495.8,612.5 L497.6,616.2 L499.6,619.9 L500.3,621.2"/><polygon points="496.3,623.7 507.2,632.6 504.3,618.8"/>
<path d="M533.3,508.7 L532.7,512.7 L532.0,516.8 L531.3,521.0 L530.7,525.1 L530.1,529.3 L529.7,533.5 L529.3,537.6 L529.1,541.8 L529.0,546.0 L529.0,550.2 L529.1,554.5 L529.3,558.8 L529.4,563.0 L529.7,567.0 L530.0,570.7 L531.4,574.3 L534.5,577.6 L538.1,580.8 L541.6,584.0 L544.4,586.9 L547.2,590.0 L549.9,593.0 L552.8,596.0 L555.6,599.0 L558.5,602.0 L561.4,604.9 L564.4,607.6 L567.4,610.3 L570.6,612.7 L573.7,615.0 L577.0,617.0 L580.4,618.9 L584.0,620.7 L587.6,622.4 L591.3,624.0 L595.2,625.6 L599.0,627.0 L603.0,628.5 L606.9,629.8 L610.9,631.1 L614.8,632.4 L615.6,632.6"/><polygon points="614.3,637.1 628.4,636.3 616.9,628.1"/>
<path d="M541.3,508.7 L542.6,511.3 L544.5,515.1 L546.4,518.9 L548.3,522.7 L550.1,526.5 L552.0,530.3 L553.8,534.1 L555.5,538.0 L557.2,541.9 L558.9,545.7 L560.4,549.7 L561.9,553.6 L563.2,557.8 L564.3,562.0 L565.5,566.2 L567.0,570.0 L569.1,573.4 L571.7,576.6 L574.8,579.7 L578.2,582.6 L581.6,585.4 L585.0,588.0 L588.4,590.6 L592.0,593.0 L595.6,595.4 L599.4,597.6 L603.2,599.7 L607.0,601.7 L611.0,603.6 L615.1,605.5 L619.2,607.3 L623.4,609.0 L627.6,610.6 L631.9,612.2 L636.1,613.6 L640.4,615.0 L644.2,616.2 L648.1,617.3 L652.0,618.3 L655.9,619.3 L659.8,620.2 L663.7,621.1 L667.7,622.0 L671.6,622.9 L675.6,623.7 L679.6,624.6 L683.5,625.5 L687.5,626.4 L691.4,627.3 L695.3,628.2 L699.2,629.2 L703.1,630.2 L707.0,631.3 L711.0,632.5 L715.0,633.7 L719.0,635.0 L722.9,636.3 L726.9,637.6 L730.8,639.0 L734.8,640.3 L738.7,641.8 L742.7,643.2 L746.6,644.6 L750.5,646.1 L754.4,647.6 L758.4,649.1 L762.3,650.5 L766.2,652.0 L770.1,653.5 L774.0,655.0 L777.8,656.4 L781.6,657.9 L785.4,659.4 L789.1,660.9 L792.9,662.4 L796.7,663.9 L800.5,665.4 L804.2,666.9 L808.0,668.5 L811.7,670.0 L815.5,671.6 L819.3,673.1 L823.0,674.7 L826.8,676.3 L830.5,677.9 L834.3,679.4 L838.0,681.0 L841.7,682.6 L845.5,684.2 L849.2,685.8 L852.9,687.4 L856.7,689.0 L860.4,690.6 L864.1,692.2 L867.8,693.8 L871.6,695.4 L875.3,697.1 L879.0,698.7 L882.7,700.3 L886.3,701.9"/><polygon points="884.5,706.2 898.5,707.3 888.2,697.7"/>
<path d="M555.5,508.7 L555.8,508.8 L559.2,510.9 L562.6,513.1 L566.1,515.2 L569.5,517.3 L572.9,519.5 L576.3,521.6 L579.8,523.7 L583.2,525.9 L586.6,528.0 L590.1,530.1 L593.5,532.3 L596.9,534.4 L600.3,536.6 L603.8,538.7 L607.2,540.8 L610.6,543.0 L614.1,545.1 L617.5,547.2 L620.9,549.4 L623.5,551.0"/><polygon points="621.1,554.9 634.9,558.0 626.0,547.0"/>
<path d="M574.5,508.7 L577.9,509.8 L581.8,511.1 L585.7,512.3 L589.6,513.6 L593.5,514.8 L597.4,516.1 L601.3,517.3 L605.1,518.6 L609.0,519.8 L612.9,521.1 L616.8,522.4 L620.7,523.6 L624.6,524.9 L628.5,526.1 L632.4,527.4 L636.2,528.6 L640.1,529.9 L644.0,531.1 L647.9,532.4 L651.8,533.6 L655.7,534.9 L659.6,536.1 L663.4,537.4 L667.3,538.6 L671.2,539.9 L675.1,541.1 L679.0,542.4 L682.9,543.6 L686.8,544.9 L690.7,546.1 L694.6,547.4 L698.4,548.6 L702.3,549.9 L706.2,551.1 L710.1,552.4 L714.0,553.6 L717.9,554.8 L721.7,556.1 L725.5,557.4 L729.4,558.7 L733.2,560.1 L737.1,561.4 L740.9,562.7 L744.7,563.9 L748.6,565.2 L752.5,566.4 L756.3,567.6 L760.2,568.7 L764.1,569.7 L768.0,570.7 L772.0,571.6 L776.0,572.6 L780.1,573.4 L784.1,574.3 L788.2,575.2 L792.3,576.0 L796.4,576.7 L800.4,577.5 L804.5,578.2 L808.6,578.9 L812.7,579.6 L816.8,580.3 L820.9,580.9 L825.0,581.5 L829.0,582.1 L833.0,582.6 L837.0,583.2 L841.0,583.8 L845.0,584.3 L849.0,584.8 L853.0,585.4 L857.0,585.9 L861.0,586.5 L865.1,587.0 L869.1,587.5 L873.1,588.0 L877.1,588.5 L881.1,589.0 L885.2,589.5 L889.2,590.0 L893.2,590.5 L897.2,590.9 L901.3,591.4 L905.3,591.9 L909.3,592.3 L913.3,592.7 L917.4,593.2 L921.4,593.6 L925.4,594.0 L929.5,594.4 L933.5,594.8 L937.5,595.2 L941.6,595.5 L945.6,595.9 L949.6,596.2 L953.7,596.6 L957.7,596.9 L961.8,597.2 L965.8,597.5 L969.8,597.8 L973.9,598.0 L977.9,598.3 L981.9,598.5 L986.0,598.8 L990.0,599.0 L994.1,599.2 L998.1,599.4 L1002.2,599.6 L1006.3,599.8 L1010.3,599.9 L1014.4,600.1 L1018.5,600.3 L1022.6,600.4 L1026.6,600.5 L1030.7,600.7 L1034.8,600.8 L1038.9,600.9 L1042.9,601.1 L1047.0,601.2 L1051.1,601.3 L1055.2,601.4 L1059.2,601.6 L1063.3,601.7 L1067.4,601.8 L1071.5,601.9 L1075.6,602.1 L1079.6,602.2 L1083.7,602.4 L1087.8,602.5 L1091.9,602.7 L1095.9,602.8 L1100.0,603.0 L1104.1,603.2 L1108.1,603.3 L1112.2,603.5 L1116.3,603.7 L1120.3,603.9 L1124.4,604.0 L1128.5,604.2 L1132.6,604.4 L1136.7,604.5 L1140.7,604.7 L1144.8,604.9 L1148.9,605.0 L1153.0,605.2 L1157.0,605.4 L1161.1,605.6 L1165.2,605.8 L1169.3,606.0 L1173.3,606.2 L1177.4,606.4 L1181.5,606.6 L1185.5,606.8 L1189.6,607.1 L1193.7,607.3 L1197.7,607.6 L1201.8,607.8 L1205.8,608.1 L1209.9,608.4 L1213.9,608.7 L1217.9,609.0 L1222.0,609.3 L1226.0,609.7 L1230.0,610.0 L1234.1,610.4 L1238.2,610.8 L1242.3,611.3 L1246.4,611.8 L1250.5,612.4 L1254.6,613.0 L1258.7,613.7 L1262.8,614.3 L1266.9,615.1 L1271.0,615.9 L1275.1,616.7 L1279.1,617.5 L1283.2,618.4 L1287.3,619.3 L1291.4,620.3 L1295.4,621.2 L1299.5,622.2 L1303.5,623.3 L1307.5,624.3 L1311.5,625.4 L1315.5,626.6 L1319.5,627.7 L1323.5,628.9 L1327.4,630.1 L1331.3,631.3 L1335.3,632.5 L1339.1,633.7 L1343.0,635.0 L1346.7,636.4 L1350.4,638.0 L1354.1,639.8 L1357.7,641.7 L1361.4,643.5 L1365.0,645.3 L1368.7,647.0 L1372.3,648.7 L1376.0,650.4 L1379.7,652.1 L1383.4,653.8 L1387.1,655.4 L1390.8,657.1 L1394.5,658.8 L1398.1,660.4 L1401.8,662.1 L1405.5,663.8 L1409.2,665.5 L1412.8,667.3 L1416.5,669.0 L1420.1,670.8 L1423.7,672.5 L1427.3,674.4 L1430.9,676.2 L1434.5,678.1 L1438.0,680.0 L1441.6,682.0 L1445.2,684.0 L1448.8,686.1 L1452.3,688.2 L1455.9,690.3 L1459.4,692.4 L1463.0,694.6 L1466.5,696.8 L1470.0,699.0 L1473.5,701.3 L1476.9,703.5 L1480.4,705.8 L1483.8,708.1 L1487.2,710.5 L1490.6,712.8 L1494.0,715.2 L1497.4,717.6 L1500.7,720.0 L1504.0,722.4 L1507.3,724.9 L1510.5,727.4 L1513.7,729.9 L1517.0,732.4 L1520.1,735.0 L1523.3,737.6 L1526.5,740.3 L1529.6,742.9 L1532.8,745.6 L1535.9,748.3 L1539.0,751.0 L1542.1,753.7 L1545.2,756.4 L1548.3,759.2 L1551.4,761.9 L1554.5,764.7 L1557.5,767.4 L1560.6,770.2 L1563.7,772.9 L1564.0,773.2"/><polygon points="1560.9,776.7 1573.9,782.0 1567.1,769.7"/>
<path d="M907.6,508.7 L904.6,509.4 L900.7,510.4 L896.8,511.3 L892.9,512.3 L889.0,513.2 L885.1,514.2 L881.2,515.2 L877.3,516.1 L873.4,517.1 L869.5,518.0 L865.6,519.0 L861.7,519.9 L857.8,520.9 L853.9,521.9 L850.0,522.8 L846.1,523.8 L842.2,524.7 L838.3,525.7 L834.4,526.6 L830.5,527.6 L826.6,528.6 L822.7,529.5 L818.8,530.5 L814.9,531.4 L811.0,532.4 L807.1,533.4 L803.3,534.3 L799.4,535.3 L795.5,536.2 L791.6,537.2 L787.7,538.1 L783.8,539.1 L779.9,540.1 L776.0,541.0 L772.1,542.0 L768.2,542.9 L764.3,543.9 L760.4,544.8 L756.5,545.8 L752.6,546.8 L748.7,547.7 L744.8,548.7 L740.9,549.6 L737.0,550.6 L733.1,551.5 L729.2,552.5 L725.3,553.5 L721.4,554.4 L719.7,554.9"/><polygon points="718.6,550.3 706.7,558.0 720.8,559.4"/>
<path d="M918.9,508.7 L918.6,508.8 L914.5,510.0 L910.3,511.2 L906.2,512.4 L902.1,513.7 L898.1,515.0 L894.1,516.3 L890.1,517.6 L886.2,519.0 L882.3,520.4 L878.5,521.9 L874.7,523.4 L871.0,525.0 L867.4,526.6 L863.9,528.3 L860.4,530.1 L857.1,531.9 L853.8,533.9 L850.7,535.9 L847.6,538.1 L844.5,540.7 L841.4,543.5 L838.4,546.5 L835.4,549.7 L832.6,553.0 L829.9,556.5 L827.3,560.0 L825.0,563.6 L822.9,567.2 L821.0,570.7 L819.3,574.3 L817.5,578.0 L815.9,581.8 L814.3,585.7 L812.8,589.7 L811.5,593.7 L810.3,597.8 L809.3,601.9 L808.5,605.9 L808.0,610.0 L807.6,614.3 L807.2,618.7 L806.9,623.1 L806.6,627.5 L806.3,632.0 L806.2,636.4 L806.0,640.9 L806.0,645.3 L806.0,649.4 L806.0,653.6 L806.1,657.7 L806.2,661.9 L806.3,666.1 L806.4,670.2 L806.6,674.4 L806.7,678.5 L806.9,682.6 L807.1,686.8 L807.4,690.9 L807.6,694.2"/><polygon points="802.9,694.9 809.6,707.3 812.2,693.5"/>
<path d="M944.4,508.7 L943.7,509.3 L940.6,512.0 L937.5,514.7 L934.4,517.3 L931.3,520.0 L928.2,522.7 L925.1,525.3 L922.0,528.0 L918.9,530.7 L915.9,533.4 L912.8,536.0 L909.7,538.7 L906.6,541.4 L903.5,544.0 L900.4,546.7 L897.4,549.3"/><polygon points="894.3,545.8 887.3,558.0 900.4,552.9"/>
<path d="M959.1,508.7 L959.1,512.6 L959.2,516.8 L959.2,520.9 L959.2,525.1 L959.2,529.2 L959.2,533.4 L959.2,537.5 L959.2,541.7 L959.2,544.7"/><polygon points="954.6,544.7 959.3,558.0 963.9,544.7"/>
<path d="M974.5,508.7 L974.7,508.9 L977.9,511.5 L981.0,514.0 L984.1,516.6 L987.2,519.2 L990.4,521.8 L993.5,524.3 L996.6,526.9 L999.8,529.5 L1002.9,532.1 L1006.0,534.6 L1009.1,537.2 L1012.3,539.8 L1015.4,542.4 L1018.5,544.9 L1021.7,547.5 L1024.1,549.6"/><polygon points="1021.2,553.2 1034.4,558.0 1027.1,546.0"/>
<path d="M1030.1,508.7 L1030.2,508.7 L1034.1,509.4 L1038.1,510.1 L1042.0,510.8 L1046.0,511.5 L1049.9,512.2 L1053.9,512.9 L1057.8,513.6 L1061.8,514.3 L1065.7,515.0 L1069.7,515.7 L1073.6,516.4 L1077.6,517.1 L1081.5,517.8 L1085.5,518.6 L1089.4,519.3 L1093.4,520.0 L1097.3,520.7 L1101.3,521.4 L1105.2,522.1 L1109.2,522.8 L1113.1,523.5 L1117.1,524.2 L1121.0,524.9 L1125.0,525.6 L1128.9,526.3 L1132.9,527.0 L1136.8,527.7 L1140.8,528.4 L1144.7,529.1 L1148.7,529.8 L1152.6,530.5 L1156.6,531.2 L1160.5,531.9 L1164.5,532.6 L1168.4,533.4 L1172.3,534.1 L1176.3,534.8 L1180.2,535.5 L1184.2,536.2 L1188.1,536.9 L1192.1,537.6 L1196.0,538.3 L1200.0,539.0 L1203.9,539.7 L1207.9,540.4 L1211.8,541.1 L1215.8,541.8 L1219.7,542.5 L1223.7,543.2 L1227.6,543.9 L1231.6,544.6 L1235.5,545.3 L1239.5,546.0 L1243.4,546.7 L1247.4,547.4 L1251.3,548.1 L1255.3,548.9 L1259.2,549.6 L1263.2,550.3 L1267.1,551.0 L1271.1,551.7 L1275.0,552.4 L1279.0,553.1 L1282.9,553.8 L1286.9,554.5 L1290.8,555.2 L1294.8,555.9 L1298.7,556.6 L1300.6,556.9"/><polygon points="1299.8,561.5 1313.7,559.3 1301.4,552.3"/>
<path d="M1261.5,508.7 L1260.2,509.8 L1257.0,512.6 L1253.8,515.4 L1250.6,518.2 L1247.4,520.9 L1244.2,523.7 L1240.9,526.4 L1237.7,529.1 L1234.4,531.8 L1231.1,534.4 L1227.8,537.0 L1224.4,539.5 L1221.0,542.0 L1217.6,544.4 L1214.2,546.8 L1210.8,549.1 L1207.3,551.5 L1203.8,553.8 L1200.3,556.0 L1196.7,558.3 L1193.1,560.5 L1189.6,562.6 L1185.9,564.7 L1182.3,566.8 L1178.7,568.8 L1175.0,570.7 L1171.4,572.6 L1167.8,574.4 L1164.1,576.3 L1160.4,578.1 L1156.7,579.8 L1153.0,581.6 L1149.2,583.2 L1145.4,584.8 L1141.6,586.3 L1137.8,587.7 L1134.0,589.0 L1130.1,590.2 L1126.2,591.3 L1122.2,592.4 L1118.2,593.4 L1114.2,594.3 L1110.1,595.3 L1106.1,596.2 L1102.1,597.1 L1098.0,598.0 L1094.0,599.0 L1090.0,599.9 L1086.0,601.0 L1081.7,602.2 L1077.5,603.5 L1073.3,604.9 L1069.1,606.3 L1064.8,607.7 L1060.6,609.0 L1056.4,610.3 L1052.1,611.4 L1047.8,612.4 L1043.7,613.2 L1039.5,614.0 L1035.3,614.8 L1031.1,615.4 L1026.9,616.1 L1022.7,616.7 L1018.4,617.3 L1014.2,617.9 L1010.0,618.5 L1005.5,619.1 L1001.1,619.6 L996.6,620.2 L992.2,620.7 L987.7,621.2 L983.2,621.7 L978.8,622.2 L974.3,622.8 L970.1,623.3 L965.9,623.9 L961.7,624.4 L957.6,624.9 L953.4,625.5 L949.2,626.1 L945.0,626.7 L940.9,627.4 L936.7,628.2 L932.5,629.0 L928.3,629.9 L924.1,630.8 L919.9,631.8 L915.8,632.8 L911.6,633.9 L907.5,635.0 L903.3,636.2 L899.0,637.4 L894.8,638.7 L890.6,640.1 L886.4,641.5 L882.3,643.0 L878.1,644.5 L874.0,646.0 L870.2,647.4 L866.5,648.9 L862.8,650.4 L859.1,652.0 L855.4,653.6 L851.7,655.2 L848.0,656.9 L844.4,658.5 L840.7,660.2 L836.9,662.0 L833.2,663.7 L829.5,665.6 L825.8,667.4 L822.0,669.3 L818.3,671.2 L814.7,673.1 L811.0,675.0 L807.3,676.9 L803.6,678.9 L799.8,680.9 L796.1,682.9 L792.4,684.9 L788.7,687.0 L785.1,689.0 L781.4,691.1 L777.7,693.1 L774.0,695.2 L770.3,697.2 L766.7,699.2 L763.0,701.2 L759.3,703.2 L755.6,705.2 L751.9,707.2 L748.2,709.2 L744.6,711.2 L741.0,713.3 L737.4,715.5 L733.9,717.7 L730.5,720.0 L726.9,722.5 L723.4,725.1 L719.9,727.8 L716.5,730.5 L713.1,733.3 L709.8,736.2 L706.5,739.1 L703.2,742.0 L700.0,745.0 L697.0,747.9 L694.2,750.8 L691.3,753.9 L688.5,756.9 L685.7,760.0 L682.9,763.0 L680.0,766.0 L677.1,768.9 L674.1,771.8 L673.1,772.8"/><polygon points="669.8,769.5 663.4,782.0 676.3,776.2"/>
<path d="M1263.0,508.7 L1261.8,509.8 L1258.8,512.5 L1255.9,515.3 L1253.0,518.1 L1250.1,520.8 L1247.2,523.6 L1244.3,526.3 L1241.4,529.1 L1238.4,531.8 L1235.5,534.6 L1232.6,537.3 L1229.7,540.1 L1226.8,542.8 L1223.9,545.6 L1221.0,548.4 L1218.1,551.1 L1215.2,553.9 L1212.3,556.7 L1209.5,559.5 L1206.6,562.3 L1203.7,565.1 L1200.9,567.9 L1198.0,570.7 L1195.1,573.5 L1192.3,576.3 L1189.4,579.2 L1186.6,582.0 L1183.7,584.8 L1180.9,587.6 L1178.0,590.5 L1175.2,593.3 L1172.3,596.1 L1169.5,599.0 L1166.6,601.8 L1163.8,604.7 L1161.0,607.5 L1158.1,610.4 L1155.3,613.2 L1152.5,616.1 L1149.7,619.0 L1146.9,621.9 L1144.2,624.8 L1141.4,627.7 L1138.6,630.6 L1135.9,633.5 L1133.1,636.4 L1130.4,639.4 L1127.7,642.3 L1125.0,645.3 L1122.3,648.3 L1119.5,651.3 L1116.8,654.3 L1114.0,657.4 L1111.3,660.4 L1108.5,663.4 L1105.8,666.4 L1103.1,669.5 L1100.3,672.5 L1097.6,675.6 L1094.9,678.7 L1092.2,681.8 L1089.6,684.9 L1086.9,688.0 L1084.3,691.1 L1081.7,694.2 L1079.1,697.4 L1076.6,700.6 L1074.0,703.8 L1071.6,707.0 L1069.1,710.2 L1066.7,713.4 L1064.3,716.7 L1062.0,720.0 L1059.7,723.4 L1057.4,726.8 L1055.2,730.2 L1053.0,733.7 L1050.8,737.2 L1048.7,740.7 L1046.6,744.3 L1044.5,747.8 L1042.4,751.4 L1040.4,755.0 L1038.3,758.6 L1036.3,762.2 L1034.3,765.8 L1032.3,769.5 L1031.8,770.4"/><polygon points="1027.7,768.1 1025.3,782.0 1035.9,772.7"/>
<path d="M1293.5,508.7 L1295.9,510.5 L1299.2,512.9 L1302.5,515.3 L1305.7,517.7 L1309.0,520.1 L1312.3,522.5 L1315.6,524.9 L1318.8,527.3 L1322.1,529.7 L1325.4,532.1 L1328.6,534.6 L1331.9,537.0 L1335.2,539.4 L1338.4,541.8 L1341.7,544.2 L1345.0,546.6 L1348.3,549.0 L1349.8,550.1"/><polygon points="1347.0,553.9 1360.5,558.0 1352.5,546.4"/>
<path d="M1318.8,508.7 L1322.6,509.8 L1326.4,510.9 L1330.3,512.1 L1334.2,513.2 L1338.0,514.4 L1341.9,515.5 L1345.7,516.7 L1349.6,517.8 L1353.4,519.0 L1357.3,520.1 L1361.2,521.3 L1365.0,522.4 L1368.9,523.6 L1372.7,524.7 L1376.6,525.9 L1380.4,527.0 L1384.3,528.2 L1388.2,529.3 L1392.0,530.5 L1395.9,531.6 L1399.7,532.8 L1403.6,533.9 L1407.4,535.1 L1411.3,536.2 L1415.1,537.4 L1419.0,538.5 L1422.9,539.7 L1426.7,540.8 L1430.6,542.0 L1434.4,543.1 L1438.3,544.3 L1442.1,545.4 L1446.0,546.6 L1449.9,547.7 L1453.7,548.9 L1457.6,550.0 L1461.4,551.2 L1465.3,552.3 L1469.1,553.5 L1471.7,554.2"/><polygon points="1470.4,558.7 1484.5,558.0 1473.0,549.8"/>
<path d="M1325.6,505.8 L1327.8,506.2 L1331.7,507.0 L1335.7,507.8 L1339.7,508.6 L1343.6,509.4 L1347.6,510.2 L1351.5,510.9 L1355.5,511.7 L1359.5,512.5 L1363.4,513.3 L1367.4,514.1 L1371.3,514.9 L1375.3,515.7 L1379.3,516.4 L1383.2,517.2 L1387.2,518.0 L1391.1,518.8 L1395.1,519.6 L1399.1,520.4 L1403.0,521.2 L1407.0,521.9 L1410.9,522.7 L1414.9,523.5 L1418.9,524.3 L1422.8,525.1 L1426.8,525.9 L1430.7,526.7 L1434.7,527.5 L1438.7,528.2 L1442.6,529.0 L1446.6,529.8 L1450.5,530.6 L1454.5,531.4 L1458.5,532.2 L1462.4,533.0 L1466.4,533.7 L1470.3,534.5 L1474.3,535.3 L1478.3,536.1 L1482.2,536.9 L1486.2,537.7 L1490.1,538.5 L1494.1,539.2 L1498.1,540.0 L1502.0,540.8 L1506.0,541.6 L1509.9,542.4 L1513.9,543.2 L1517.9,544.0 L1521.8,544.8 L1525.8,545.5 L1529.7,546.3 L1533.7,547.1 L1537.7,547.9 L1541.6,548.7 L1545.6,549.5 L1549.5,550.3 L1553.5,551.0 L1557.5,551.8 L1561.4,552.6 L1565.4,553.4 L1569.3,554.2 L1573.3,555.0 L1577.3,555.8 L1581.2,556.5 L1585.2,557.3 L1589.1,558.1 L1593.1,558.9 L1597.1,559.7 L1600.1,560.3"/><polygon points="1599.2,564.9 1613.2,562.9 1601.0,555.7"/>
<path d="M1325.6,506.6 L1326.0,506.7 L1330.1,507.4 L1334.1,508.1 L1338.2,508.8 L1342.2,509.5 L1346.3,510.1 L1350.4,510.8 L1354.4,511.5 L1358.5,512.1 L1362.6,512.8 L1366.7,513.4 L1370.7,514.0 L1374.8,514.6 L1378.9,515.2 L1383.0,515.8 L1387.1,516.3 L1391.2,516.9 L1395.2,517.4 L1399.3,517.9 L1403.4,518.4 L1407.5,518.8 L1411.6,519.3 L1415.7,519.7 L1419.8,520.0 L1423.9,520.4 L1428.0,520.7 L1432.1,521.0 L1436.1,521.3 L1440.2,521.5 L1444.3,521.8 L1448.4,522.0 L1452.5,522.2 L1456.6,522.4 L1460.7,522.6 L1464.8,522.8 L1468.8,522.9 L1472.9,523.1 L1477.0,523.3 L1481.1,523.4 L1485.2,523.6 L1489.3,523.7 L1493.4,523.9 L1497.5,524.0 L1501.6,524.2 L1505.7,524.3 L1509.8,524.5 L1513.9,524.7 L1518.0,524.8 L1522.1,525.0 L1526.2,525.2 L1530.3,525.4 L1534.3,525.7 L1538.4,525.9 L1542.5,526.1 L1546.6,526.4 L1550.6,526.7 L1554.7,527.0 L1558.8,527.3 L1562.9,527.7 L1566.9,528.1 L1571.0,528.6 L1575.1,529.1 L1579.2,529.6 L1583.2,530.1 L1587.3,530.7 L1591.4,531.3 L1595.4,531.9 L1599.5,532.6 L1603.6,533.3 L1607.6,534.0 L1611.7,534.7 L1615.7,535.4 L1619.8,536.2 L1623.8,537.0 L1627.9,537.8 L1631.9,538.5 L1635.9,539.4 L1640.0,540.2 L1644.0,541.0 L1648.0,541.8 L1652.0,542.7 L1656.0,543.5 L1660.0,544.3 L1663.9,545.2 L1667.9,546.1 L1671.9,547.1 L1675.8,548.0 L1679.8,549.0 L1683.7,550.1 L1687.7,551.1 L1691.6,552.2 L1695.6,553.3 L1699.5,554.4 L1703.4,555.5 L1707.4,556.7 L1711.3,557.9 L1715.2,559.1 L1719.1,560.3 L1723.0,561.6 L1726.9,562.8 L1730.7,564.1 L1734.6,565.4 L1738.5,566.7 L1742.3,568.0 L1746.2,569.4 L1750.0,570.7 L1753.8,572.1 L1757.5,573.6 L1761.2,575.1 L1764.9,576.7 L1768.6,578.3 L1772.3,579.9 L1776.0,581.5 L1779.7,583.1 L1783.5,584.6 L1787.4,586.1 L1791.3,587.6 L1795.2,589.1 L1799.1,590.6 L1803.0,592.1 L1806.9,593.6 L1810.7,595.2 L1814.5,596.8 L1818.3,598.4 L1822.0,600.1 L1825.6,601.8 L1829.1,603.7 L1832.5,605.6 L1835.8,607.6 L1839.0,609.8 L1842.0,612.0 L1845.4,614.7 L1849.0,617.7 L1852.5,621.0 L1855.5,624.5 L1857.6,628.2 L1858.4,632.0 L1858.2,635.2 L1857.6,638.7 L1856.9,642.1 L1856.0,645.3 L1854.3,649.3 L1851.8,653.3 L1848.7,657.0 L1845.4,660.2 L1842.0,662.6 L1838.9,664.3 L1835.7,665.8 L1832.3,667.3 L1828.7,668.6 L1825.0,669.9 L1821.1,671.1 L1817.2,672.2 L1813.1,673.2 L1809.0,674.2 L1804.9,675.1 L1800.7,676.0 L1796.5,676.8 L1792.3,677.6 L1788.2,678.3 L1784.0,679.0 L1780.0,679.7 L1776.0,680.3 L1772.1,680.9 L1768.1,681.5 L1764.1,682.1 L1760.1,682.7 L1756.2,683.2 L1752.2,683.7 L1748.2,684.2 L1744.2,684.7 L1740.2,685.1 L1736.1,685.6 L1732.1,686.0 L1728.1,686.4 L1724.1,686.8 L1720.1,687.2 L1716.1,687.6 L1712.0,687.9 L1708.0,688.3 L1704.0,688.6 L1700.0,689.0 L1696.0,689.3 L1692.0,689.7 L1688.0,690.0 L1684.0,690.4 L1680.0,690.7 L1675.9,691.0 L1671.9,691.3 L1667.9,691.7 L1663.9,692.0 L1659.9,692.3 L1655.9,692.6 L1651.9,692.9 L1647.8,693.2 L1643.8,693.5 L1639.8,693.8 L1635.8,694.1 L1631.8,694.3 L1627.7,694.6 L1623.7,694.9 L1619.7,695.1 L1615.7,695.4 L1611.7,695.7 L1607.6,695.9 L1603.6,696.2 L1599.6,696.4 L1595.6,696.6 L1591.6,696.9 L1587.5,697.1 L1583.5,697.3 L1579.5,697.5 L1575.5,697.7 L1571.5,697.9 L1567.4,698.1 L1563.4,698.3 L1559.4,698.5 L1555.4,698.7 L1551.3,698.9 L1547.3,699.0 L1543.3,699.2 L1539.2,699.4 L1535.2,699.5 L1531.1,699.7 L1527.1,699.8 L1523.1,699.9 L1519.0,700.1 L1515.0,700.2 L1510.9,700.3 L1506.9,700.5 L1502.8,700.6 L1498.8,700.7 L1494.8,700.8 L1490.7,700.9 L1486.7,701.0 L1482.6,701.2 L1478.6,701.3 L1474.5,701.4 L1470.5,701.5 L1466.4,701.6 L1462.4,701.7 L1458.3,701.8 L1454.3,701.9 L1450.3,702.0 L1446.2,702.0 L1442.2,702.1 L1438.1,702.2 L1434.1,702.3 L1430.0,702.4 L1426.0,702.5 L1421.9,702.6 L1417.9,702.7 L1413.8,702.8 L1409.8,702.9 L1405.8,703.0 L1401.7,703.1 L1397.7,703.2 L1393.6,703.3 L1389.6,703.4 L1385.5,703.5 L1381.5,703.6 L1377.5,703.7 L1373.4,703.8 L1369.4,704.0 L1365.3,704.1 L1361.3,704.2 L1357.3,704.3 L1353.2,704.5 L1349.2,704.6 L1345.1,704.8 L1341.1,704.9 L1337.1,705.0 L1333.0,705.2 L1329.0,705.4 L1325.0,705.5 L1320.9,705.7 L1316.9,705.9 L1312.9,706.1 L1308.9,706.2 L1304.8,706.4 L1300.8,706.6 L1296.8,706.8 L1292.7,707.1 L1288.7,707.3 L1286.4,707.4"/><polygon points="1286.1,702.7 1273.1,708.3 1286.8,712.1"/>
<path d="M292.6,583.4 L291.0,584.0 L287.1,585.6 L282.9,587.2 L278.6,588.8 L274.3,590.4 L269.8,592.0 L265.4,593.7 L261.0,595.4 L256.6,597.1 L252.4,599.0 L248.3,600.8 L244.4,602.8 L240.8,604.9 L237.5,607.1 L234.5,609.4 L231.9,611.8 L229.7,614.3 L228.0,617.0 L226.5,620.1 L225.1,623.8 L223.8,627.9 L222.7,632.3 L221.8,636.8 L221.2,641.2 L221.0,645.3 L221.6,649.3 L223.0,653.3 L224.9,657.2 L227.1,661.1 L229.0,665.0 L230.8,669.1 L232.7,673.2 L234.7,677.2 L236.8,681.2 L239.0,685.0 L241.2,688.4 L243.5,691.8 L246.0,695.1 L248.5,698.4 L251.2,701.6 L253.9,704.7 L256.7,707.9 L259.5,711.0 L262.3,714.0 L265.2,717.0 L268.0,720.0 L270.8,722.9 L273.6,725.7 L276.4,728.6 L279.3,731.4 L282.2,734.2 L285.2,737.0 L288.2,739.7 L291.2,742.4 L294.3,745.0 L297.4,747.6 L300.5,750.1 L303.6,752.6 L306.8,755.0 L310.0,757.4 L313.3,759.7 L316.6,762.0 L320.0,764.3 L323.4,766.6 L326.8,768.8 L330.2,771.0 L333.7,773.2 L337.2,775.3 L340.7,777.4 L344.2,779.5 L347.8,781.5 L351.4,783.5 L355.0,785.5 L358.5,787.4 L362.2,789.3 L365.8,791.1 L369.4,792.9 L373.0,794.7 L376.6,796.4 L380.2,798.1 L383.9,799.8 L387.5,801.5 L391.2,803.1 L394.9,804.7 L398.6,806.3 L402.3,807.9 L406.1,809.5 L409.8,811.1 L413.6,812.6 L417.3,814.1 L421.1,815.6 L424.9,817.1 L428.7,818.5 L432.5,819.9 L436.3,821.4 L440.1,822.8 L443.9,824.1 L447.7,825.5 L451.6,826.8 L455.4,828.1 L459.2,829.4 L463.1,830.7 L466.9,832.0 L470.8,833.2 L474.6,834.4 L478.5,835.6 L482.3,836.8 L486.2,838.0 L490.1,839.1 L494.1,840.3 L498.0,841.4 L502.0,842.5 L505.9,843.5 L509.9,844.6 L513.9,845.6 L517.8,846.6 L521.8,847.6 L525.8,848.6 L529.8,849.6 L533.8,850.6 L537.8,851.5 L541.8,852.5 L545.8,853.4 L549.8,854.4 L553.8,855.3 L557.9,856.2 L561.9,857.1 L565.9,858.0 L569.7,858.9"/><polygon points="568.6,863.5 582.7,861.9 570.7,854.4"/>
<path d="M319.0,583.4 L318.8,583.7 L316.3,586.9 L313.9,590.2 L311.5,593.4 L309.1,596.6 L306.6,599.9 L304.2,603.1 L301.8,606.4 L299.3,609.6 L296.9,612.9 L294.5,616.1 L292.0,619.4 L290.1,622.0"/><polygon points="286.4,619.2 282.1,632.6 293.8,624.8"/>
<path d="M330.5,583.4 L330.6,584.0 L331.6,587.9 L333.0,591.8 L334.5,595.6 L336.2,599.4 L337.9,603.2 L339.5,607.0 L341.0,610.9 L342.5,615.0 L344.0,619.2 L345.4,623.3 L346.9,627.4 L348.5,631.4 L350.1,635.3 L351.9,638.9 L353.9,642.3 L356.0,645.3 L358.5,648.1 L361.3,650.8 L364.5,653.3 L368.0,655.7 L371.7,658.1 L375.5,660.3 L379.4,662.4 L383.3,664.3 L387.2,666.2 L391.0,668.0 L394.9,669.8 L398.8,671.4 L402.8,673.1 L406.8,674.7 L410.9,676.2 L415.0,677.6 L419.1,679.0 L423.3,680.3 L427.5,681.6 L431.7,682.8 L435.8,683.9 L440.0,685.0 L444.3,686.0 L448.7,687.0 L453.0,687.9 L457.4,688.8 L461.8,689.6 L466.2,690.4 L470.6,691.2 L475.0,692.0 L478.9,692.7 L482.9,693.4 L486.8,694.1 L490.8,694.8 L494.7,695.5 L498.6,696.2 L502.6,696.9 L506.5,697.6 L510.5,698.3 L514.4,699.0 L518.4,699.6 L522.3,700.2 L526.3,700.9 L530.3,701.5 L534.2,702.1 L538.2,702.6 L542.1,703.1 L546.1,703.7 L550.1,704.1 L554.0,704.6 L558.0,705.0 L562.1,705.4 L566.1,705.8 L570.2,706.2 L574.3,706.6 L578.4,706.9 L582.4,707.3 L586.5,707.6 L590.6,708.0 L594.7,708.3 L598.8,708.6 L602.9,708.9 L606.9,709.2 L611.0,709.5 L615.1,709.8 L619.2,710.1 L623.3,710.4 L627.4,710.6 L631.5,710.9 L635.6,711.2 L639.7,711.4 L643.8,711.7 L647.9,711.9 L652.0,712.2 L656.0,712.4 L660.1,712.7 L664.2,712.9 L668.3,713.1 L672.4,713.4 L676.5,713.6 L680.5,713.8 L684.5,714.0 L688.5,714.3 L692.5,714.5 L696.5,714.7 L700.5,714.9 L704.5,715.1 L708.5,715.3 L712.5,715.5 L716.5,715.7 L720.5,715.9 L724.5,716.1 L728.5,716.3 L732.5,716.4 L736.5,716.6 L740.5,716.8 L744.5,717.0 L748.5,717.2 L752.5,717.3 L753.9,717.4"/><polygon points="753.7,722.1 767.3,718.0 754.1,712.7"/>
<path d="M343.9,583.4 L344.1,583.6 L347.2,586.1 L350.4,588.7 L353.5,591.3 L356.6,593.9 L359.7,596.4 L362.9,599.0 L366.0,601.6 L369.1,604.1 L372.2,606.7 L375.4,609.3 L378.5,611.9 L381.6,614.4 L384.7,617.0 L387.9,619.6 L391.0,622.1 L393.4,624.2"/><polygon points="390.5,627.8 403.7,632.6 396.4,620.6"/>
<path d="M631.6,583.4 L630.3,584.1 L626.7,586.0 L623.2,587.9 L619.6,589.8 L616.1,591.7 L612.5,593.7 L609.0,595.6 L605.4,597.5 L601.9,599.4 L598.3,601.3 L594.7,603.2 L591.2,605.1 L587.6,607.0 L584.1,609.0 L580.5,610.9 L577.0,612.8 L573.4,614.7 L569.8,616.6 L566.3,618.5 L562.7,620.4 L559.2,622.3 L555.6,624.3 L552.1,626.2 L551.8,626.3"/><polygon points="549.6,622.2 540.1,632.6 554.0,630.4"/>
<path d="M647.5,583.4 L646.6,584.8 L644.3,588.3 L642.1,591.8 L639.9,595.3 L637.7,598.8 L635.5,602.4 L633.3,605.9 L631.1,609.4 L628.9,612.9 L626.7,616.4 L624.6,620.0 L622.5,623.5 L620.5,627.1 L618.5,630.7 L616.5,634.3 L614.6,638.0 L612.8,641.6 L611.0,645.3 L609.3,648.9 L607.7,652.5 L606.1,656.2 L604.5,659.8 L602.9,663.5 L601.4,667.2 L599.9,670.9 L598.4,674.7 L596.9,678.4 L595.5,682.2 L594.1,685.9 L592.7,689.7 L591.3,693.5 L589.9,697.3 L588.6,701.0 L587.2,704.8 L585.9,708.6 L584.6,712.4 L583.3,716.2 L582.0,720.0 L580.7,723.9 L579.4,727.8 L578.1,731.7 L576.9,735.6 L575.7,739.5 L574.5,743.4 L573.3,747.4 L572.1,751.3 L570.9,755.3 L569.8,759.2 L568.6,763.1 L567.5,767.1 L566.8,769.2"/><polygon points="562.3,767.9 563.1,782.0 571.3,770.5"/>
<path d="M713.2,583.1 L714.5,583.4 L718.5,584.3 L722.4,585.1 L726.4,586.0 L730.3,586.8 L734.3,587.7 L738.2,588.5 L742.2,589.3 L746.2,590.2 L750.1,591.0 L754.1,591.9 L758.0,592.7 L762.0,593.6 L765.9,594.4 L769.9,595.3 L773.8,596.1 L777.8,597.0 L781.7,597.8 L785.7,598.7 L789.7,599.5 L793.6,600.4 L797.6,601.2 L801.5,602.1 L805.5,602.9 L809.4,603.8 L813.4,604.6 L817.3,605.5 L821.3,606.3 L825.2,607.2 L829.2,608.0 L833.2,608.8 L837.1,609.7 L841.1,610.5 L845.0,611.4 L849.0,612.2 L852.9,613.1 L856.9,613.9 L860.8,614.8 L864.8,615.6 L868.7,616.5 L872.7,617.3 L876.7,618.2 L880.6,619.0 L884.6,619.9 L888.5,620.7 L892.5,621.6 L896.4,622.4 L900.4,623.3 L904.3,624.1 L908.3,625.0 L912.2,625.8 L916.2,626.6 L920.2,627.5 L924.1,628.3 L928.1,629.2 L931.1,629.8"/><polygon points="930.1,634.4 944.1,632.6 932.1,625.3"/>
<path d="M713.2,577.9 L715.1,578.1 L719.0,578.6 L723.0,579.1 L727.0,579.6 L731.0,580.1 L735.0,580.6 L739.0,581.1 L743.0,581.6 L747.0,582.1 L751.0,582.6 L755.0,583.1 L758.9,583.5 L762.9,584.0 L766.9,584.5 L770.9,585.0 L774.9,585.5 L778.9,586.0 L782.9,586.5 L786.9,587.0 L790.9,587.5 L794.9,588.0 L798.8,588.5 L802.8,589.0 L806.8,589.5 L810.8,590.0 L814.8,590.5 L818.8,591.0 L822.8,591.4 L826.8,591.9 L830.8,592.4 L834.8,592.9 L838.7,593.4 L842.7,593.9 L846.7,594.4 L850.7,594.9 L854.7,595.4 L858.7,595.9 L862.7,596.4 L866.7,596.9 L870.7,597.4 L874.7,597.9 L878.6,598.4 L882.6,598.9 L886.6,599.4 L890.6,599.8 L894.6,600.3 L898.6,600.8 L902.6,601.3 L906.6,601.8 L910.6,602.3 L914.6,602.8 L918.5,603.3 L922.5,603.8 L926.5,604.3 L930.5,604.8 L934.5,605.3 L938.5,605.8 L942.5,606.3 L946.5,606.8 L950.5,607.3 L954.5,607.8 L958.4,608.2 L962.4,608.7 L966.4,609.2 L970.4,609.7 L974.4,610.2 L978.4,610.7 L982.4,611.2 L986.4,611.7 L990.4,612.2 L994.4,612.7 L998.3,613.2 L1002.3,613.7 L1006.3,614.2 L1010.3,614.7 L1014.3,615.2 L1018.3,615.7 L1022.3,616.2 L1026.3,616.6 L1030.3,617.1 L1034.3,617.6 L1038.2,618.1 L1042.2,618.6 L1046.2,619.1 L1050.2,619.6 L1054.2,620.1 L1058.2,620.6 L1062.2,621.1 L1066.2,621.6 L1070.2,622.1 L1074.2,622.6 L1078.1,623.1 L1082.1,623.6 L1086.1,624.1 L1090.1,624.6 L1094.1,625.0 L1098.1,625.5 L1102.1,626.0 L1106.1,626.5 L1110.1,627.0 L1114.1,627.5 L1118.0,628.0 L1122.0,628.5 L1126.0,629.0 L1130.0,629.5 L1134.0,630.0 L1138.0,630.5 L1142.0,631.0 L1146.0,631.5 L1150.0,632.0 L1154.0,632.5 L1157.9,632.9 L1161.9,633.4 L1165.9,633.9 L1169.9,634.4 L1173.9,634.9 L1177.9,635.4 L1181.9,635.9 L1183.8,636.1"/><polygon points="1183.2,640.8 1197.0,637.8 1184.4,631.5"/>
<path d="M1313.7,576.1 L1313.2,576.1 L1309.1,576.5 L1305.1,576.8 L1301.1,577.2 L1297.0,577.5 L1293.0,577.9 L1288.9,578.2 L1284.9,578.5 L1280.9,578.9 L1276.8,579.2 L1272.8,579.6 L1268.8,579.9 L1264.7,580.2 L1260.7,580.6 L1256.7,580.9 L1252.6,581.3 L1248.6,581.6 L1244.6,581.9 L1240.5,582.3 L1236.5,582.6 L1232.5,582.9 L1228.4,583.2 L1224.4,583.6 L1220.4,583.9 L1216.3,584.2 L1212.3,584.5 L1208.3,584.8 L1204.2,585.2 L1200.2,585.5 L1196.1,585.8 L1192.1,586.1 L1188.1,586.4 L1184.0,586.7 L1180.0,587.0 L1176.0,587.3 L1172.0,587.6 L1168.0,587.9 L1164.0,588.1 L1160.0,588.4 L1156.0,588.7 L1152.0,588.9 L1148.0,589.2 L1144.0,589.5 L1140.0,589.7 L1136.0,590.0 L1132.0,590.2 L1128.0,590.4 L1124.0,590.7 L1120.0,590.9 L1116.0,591.2 L1112.0,591.4 L1107.9,591.6 L1103.9,591.9 L1099.9,592.1 L1095.9,592.3 L1091.9,592.5 L1087.9,592.8 L1083.9,593.0 L1079.9,593.2 L1075.9,593.4 L1071.9,593.7 L1067.9,593.9 L1063.9,594.1 L1059.9,594.4 L1055.9,594.6 L1051.9,594.8 L1047.9,595.1 L1043.9,595.3 L1039.9,595.5 L1035.9,595.8 L1031.8,596.0 L1027.8,596.3 L1023.8,596.5 L1019.8,596.8 L1015.8,597.0 L1011.8,597.3 L1007.8,597.6 L1003.8,597.8 L999.8,598.1 L995.9,598.4 L991.9,598.7 L987.9,599.0 L983.9,599.3 L979.9,599.6 L975.9,599.9 L971.9,600.2 L967.9,600.5 L963.9,600.9 L959.9,601.2 L955.9,601.5 L951.9,601.9 L948.0,602.3 L944.0,602.6 L940.0,603.0 L936.0,603.4 L932.0,603.9 L928.0,604.4 L924.0,605.0 L920.0,605.6 L916.0,606.2 L912.0,606.9 L908.0,607.5 L904.0,608.3 L900.0,609.0 L896.0,609.7 L892.0,610.5 L888.0,611.3 L884.0,612.0 L880.0,612.8 L876.0,613.5 L872.0,614.3 L868.0,615.0 L864.0,615.7 L860.1,616.3 L856.1,617.0 L852.1,617.6 L848.1,618.2 L844.1,618.7 L840.1,619.2 L836.1,619.6 L832.0,620.0 L828.0,620.3 L824.0,620.5 L820.0,620.7 L816.0,620.8 L812.0,621.0 L808.0,621.1 L804.0,621.2 L799.9,621.3 L795.9,621.4 L791.9,621.5 L787.9,621.6 L783.9,621.7 L779.8,621.8 L775.8,621.9 L771.8,622.0 L767.8,622.1 L763.7,622.1 L759.7,622.2 L755.7,622.3 L751.6,622.3 L747.6,622.4 L743.6,622.5 L739.5,622.5 L735.5,622.6 L731.5,622.6 L727.4,622.7 L723.4,622.7 L719.4,622.8 L715.3,622.8 L711.3,622.9 L707.3,623.0 L703.2,623.0 L699.2,623.1 L695.1,623.1 L691.1,623.2 L687.1,623.2 L683.0,623.3 L679.0,623.3 L675.0,623.4 L670.9,623.5 L666.9,623.5 L662.9,623.6 L658.8,623.7 L654.8,623.8 L650.8,623.8 L646.7,623.9 L642.7,624.0 L638.6,624.1 L634.6,624.2 L630.5,624.3 L626.4,624.3 L622.4,624.4 L618.3,624.5 L614.2,624.6 L610.1,624.7 L606.1,624.8 L602.0,624.8 L597.9,624.9 L593.9,625.0 L589.8,625.1 L585.7,625.2 L581.7,625.3 L577.6,625.4 L573.5,625.5 L569.5,625.6 L565.4,625.7 L561.3,625.9 L557.3,626.0 L553.2,626.1 L549.1,626.3 L545.1,626.4 L541.0,626.6 L536.9,626.8 L532.8,627.0 L528.8,627.2 L524.7,627.4 L520.6,627.7 L516.5,628.0 L512.4,628.3 L508.4,628.6 L504.3,629.0 L500.2,629.3 L496.2,629.7 L492.1,630.2 L488.1,630.6 L484.0,631.0 L480.0,631.5 L475.9,632.0 L471.8,632.7 L467.7,633.4 L467.5,633.5"/><polygon points="466.4,628.9 454.4,636.4 468.5,638.0"/>
<path d="M1313.7,576.4 L1313.1,576.4 L1309.1,576.8 L1305.1,577.1 L1301.0,577.5 L1297.0,577.8 L1293.0,578.2 L1288.9,578.6 L1284.9,578.9 L1280.9,579.3 L1276.8,579.6 L1272.8,580.0 L1268.8,580.3 L1264.7,580.7 L1260.7,581.1 L1256.7,581.4 L1252.6,581.8 L1248.6,582.1 L1244.6,582.5 L1240.5,582.8 L1236.5,583.2 L1232.5,583.5 L1228.4,583.9 L1224.4,584.2 L1220.4,584.6 L1216.3,584.9 L1212.3,585.3 L1208.2,585.6 L1204.2,586.0 L1200.2,586.3 L1196.1,586.6 L1192.1,587.0 L1188.1,587.3 L1184.0,587.7 L1180.0,588.0 L1176.0,588.3 L1172.0,588.7 L1168.0,589.0 L1164.0,589.3 L1160.0,589.6 L1156.0,590.0 L1152.0,590.3 L1148.0,590.6 L1144.0,590.9 L1140.0,591.2 L1136.0,591.5 L1132.0,591.8 L1128.0,592.2 L1124.0,592.5 L1120.0,592.8 L1116.0,593.1 L1112.0,593.4 L1108.0,593.7 L1104.0,594.0 L1100.0,594.3 L1096.0,594.6 L1092.0,594.9 L1088.0,595.2 L1084.0,595.5 L1080.0,595.8 L1076.0,596.1 L1072.0,596.4 L1068.0,596.7 L1064.0,597.0 L1060.0,597.3 L1056.0,597.6 L1052.0,597.9 L1048.0,598.2 L1044.0,598.5 L1040.0,598.8 L1036.0,599.1 L1032.0,599.4 L1028.0,599.8 L1024.0,600.1 L1020.0,600.4 L1016.0,600.7 L1012.0,601.0 L1008.0,601.3 L1004.0,601.6 L1000.0,601.9 L996.0,602.3 L992.0,602.6 L988.0,602.9 L984.0,603.2 L980.0,603.6 L976.0,603.9 L972.0,604.2 L968.0,604.6 L964.0,604.9 L960.0,605.3 L956.0,605.6 L952.0,605.9 L948.0,606.3 L944.0,606.6 L940.0,607.0 L936.0,607.4 L932.0,607.7 L928.0,608.1 L924.0,608.5 L920.0,608.9 L916.0,609.3 L912.0,609.7 L908.0,610.1 L904.0,610.6 L900.0,611.0 L896.0,611.4 L892.0,611.8 L888.0,612.3 L884.0,612.7 L880.0,613.1 L876.0,613.6 L872.0,614.0 L868.0,614.4 L864.0,614.8 L860.0,615.3 L856.0,615.7 L852.0,616.1 L848.0,616.5 L844.0,616.9 L840.0,617.2 L836.0,617.6 L832.0,618.0 L828.0,618.3 L824.0,618.7 L820.0,619.0 L816.0,619.3 L812.0,619.6 L808.0,619.9 L804.0,620.2 L800.0,620.5 L796.0,620.8 L792.0,621.0 L788.0,621.3 L784.0,621.5 L780.0,621.8 L776.0,622.0 L772.0,622.3 L768.0,622.5 L764.0,622.8 L760.0,623.0 L756.0,623.3 L752.0,623.5 L748.0,623.7 L744.0,624.0 L740.0,624.2 L736.0,624.5 L732.0,624.7 L728.0,625.0 L724.0,625.3 L720.0,625.5 L716.0,625.8 L712.0,626.1 L708.0,626.4 L704.0,626.7 L700.0,627.0 L696.0,627.3 L692.0,627.6 L688.0,628.0 L684.0,628.3 L680.0,628.7 L676.0,629.0 L672.0,629.4 L668.0,629.8 L664.0,630.1 L660.0,630.5 L656.0,630.9 L652.0,631.3 L648.0,631.7 L644.0,632.1 L640.0,632.5 L636.0,632.9 L632.0,633.3 L628.0,633.7 L624.0,634.1 L620.0,634.5 L616.0,634.9 L612.0,635.3 L608.0,635.7 L604.0,636.1 L600.0,636.5 L595.8,636.9 L591.6,637.3 L587.5,637.8 L583.3,638.2 L579.1,638.6 L574.9,639.1 L570.8,639.5 L567.1,639.9"/><polygon points="566.6,635.3 553.8,641.3 567.6,644.5"/>
<path d="M1313.7,576.6 L1313.1,576.7 L1309.1,577.1 L1305.1,577.4 L1301.0,577.8 L1297.0,578.2 L1293.0,578.6 L1288.9,578.9 L1284.9,579.3 L1280.9,579.7 L1276.8,580.0 L1272.8,580.4 L1268.8,580.8 L1264.7,581.2 L1260.7,581.5 L1256.7,581.9 L1252.6,582.3 L1248.6,582.7 L1244.6,583.0 L1240.5,583.4 L1236.5,583.8 L1232.5,584.2 L1228.4,584.5 L1224.4,584.9 L1220.3,585.3 L1216.3,585.6 L1212.3,586.0 L1208.2,586.4 L1204.2,586.8 L1200.2,587.1 L1196.1,587.5 L1192.1,587.9 L1188.1,588.3 L1184.0,588.6 L1180.0,589.0 L1176.0,589.4 L1172.0,589.7 L1168.0,590.1 L1164.0,590.5 L1160.0,590.8 L1156.0,591.2 L1152.0,591.6 L1148.0,591.9 L1144.0,592.3 L1140.0,592.7 L1136.0,593.0 L1132.0,593.4 L1128.0,593.8 L1124.0,594.1 L1120.0,594.5 L1116.0,594.9 L1112.0,595.2 L1108.0,595.6 L1104.0,596.0 L1100.0,596.3 L1096.0,596.7 L1092.0,597.1 L1088.0,597.4 L1084.0,597.8 L1080.0,598.2 L1076.0,598.5 L1072.0,598.9 L1068.0,599.3 L1064.0,599.6 L1060.0,600.0 L1056.0,600.4 L1052.0,600.7 L1048.0,601.1 L1044.0,601.5 L1040.0,601.8 L1036.0,602.2 L1032.0,602.6 L1028.0,602.9 L1024.0,603.3 L1020.0,603.7 L1016.0,604.0 L1012.0,604.4 L1008.0,604.8 L1004.0,605.1 L1000.0,605.5 L996.0,605.9 L992.0,606.2 L988.0,606.6 L984.0,607.0 L980.0,607.3 L976.0,607.7 L972.0,608.1 L968.0,608.4 L964.0,608.8 L960.0,609.2 L956.0,609.5 L952.0,609.9 L948.0,610.3 L944.0,610.6 L940.0,611.0 L936.0,611.4 L932.0,611.7 L928.0,612.1 L924.0,612.5 L920.0,612.8 L916.0,613.2 L912.0,613.5 L908.0,613.9 L904.0,614.3 L900.0,614.6 L896.0,615.0 L892.0,615.3 L888.0,615.7 L884.0,616.1 L880.0,616.4 L876.0,616.8 L872.0,617.2 L868.0,617.5 L864.0,617.9 L860.0,618.3 L856.0,618.6 L852.0,619.0 L848.0,619.4 L844.0,619.7 L840.0,620.1 L836.0,620.5 L832.0,620.9 L828.0,621.2 L824.0,621.6 L820.0,622.0 L816.0,622.4 L812.0,622.8 L808.0,623.1 L804.0,623.5 L800.0,623.8 L796.0,624.2 L792.0,624.6 L788.0,625.0 L783.9,625.3 L779.9,625.7 L775.9,626.2 L772.0,626.6 L768.0,627.0 L764.0,627.5 L760.0,628.0 L756.0,628.5 L752.0,629.1 L748.0,629.7 L744.0,630.4 L740.0,631.0 L736.0,631.7 L732.0,632.5 L728.0,633.2 L724.1,634.0 L721.5,634.5"/><polygon points="720.5,629.9 708.4,637.1 722.4,639.1"/>
<path d="M1338.0,583.4 L1335.7,584.1 L1331.9,585.3 L1328.1,586.5 L1324.3,587.7 L1320.4,588.9 L1316.6,590.2 L1312.8,591.4 L1309.0,592.6 L1305.2,593.8 L1301.3,595.0 L1297.5,596.2 L1293.7,597.4 L1289.9,598.6 L1286.1,599.8 L1282.3,601.0 L1278.4,602.3 L1274.6,603.5 L1270.8,604.7 L1267.0,605.9 L1263.2,607.1 L1259.3,608.3 L1255.5,609.5 L1251.7,610.7 L1247.9,612.0 L1244.1,613.2 L1240.3,614.4 L1236.4,615.6 L1232.6,616.8 L1228.8,618.1 L1225.0,619.3 L1221.2,620.5 L1217.4,621.7 L1213.5,622.9 L1209.7,624.2 L1205.9,625.4 L1202.1,626.6 L1198.3,627.9 L1194.5,629.1 L1190.7,630.3 L1186.9,631.6 L1183.1,632.8 L1179.2,634.0 L1175.4,635.3 L1171.6,636.5 L1167.8,637.8 L1164.0,639.0 L1160.2,640.3 L1156.4,641.5 L1152.6,642.8 L1148.8,644.0 L1145.0,645.3 L1141.2,646.6 L1137.3,647.8 L1133.5,649.1 L1129.7,650.4 L1125.9,651.7 L1122.0,653.0 L1118.2,654.3 L1114.4,655.5 L1110.5,656.8 L1106.7,658.1 L1102.9,659.4 L1099.1,660.7 L1095.3,662.0 L1091.4,663.3 L1087.6,664.6 L1083.8,665.9 L1080.0,667.2 L1076.1,668.6 L1072.3,669.9 L1068.5,671.2 L1064.7,672.5 L1060.9,673.8 L1057.1,675.1 L1053.2,676.4 L1049.4,677.8 L1045.6,679.1 L1041.8,680.4 L1038.0,681.7 L1034.2,683.0 L1030.3,684.3 L1026.5,685.7 L1022.7,687.0 L1018.9,688.3 L1015.1,689.6 L1011.3,691.0 L1007.4,692.3 L1003.6,693.6 L999.8,694.9 L996.0,696.3 L992.2,697.6 L988.4,698.9 L984.6,700.2 L980.7,701.5 L976.9,702.9 L976.6,703.0"/><polygon points="975.1,698.6 964.0,707.3 978.2,707.4"/>
<path d="M1383.6,583.4 L1384.6,585.5 L1386.3,589.3 L1388.0,593.0 L1389.7,596.7 L1391.4,600.5 L1393.1,604.1 L1394.9,607.8 L1396.8,611.4 L1398.7,615.0 L1400.6,618.5 L1402.7,622.0 L1404.9,625.5 L1407.2,628.9 L1409.7,632.3 L1412.2,635.6 L1414.7,638.9 L1417.4,642.1 L1420.0,645.3 L1422.6,648.5 L1425.1,651.7 L1427.8,654.8 L1430.6,657.6 L1433.6,660.0 L1437.1,662.2 L1440.8,664.3 L1444.6,666.3 L1448.7,668.1 L1452.8,669.8 L1457.0,671.4 L1461.2,672.9 L1465.4,674.2 L1469.6,675.4 L1473.5,676.4 L1477.4,677.3 L1481.4,678.1 L1485.4,678.8 L1489.4,679.5 L1493.5,680.1 L1497.6,680.7 L1501.6,681.4 L1505.6,682.1 L1509.6,682.8 L1513.4,683.7 L1517.3,684.6 L1521.0,685.7 L1524.7,687.0 L1528.5,688.5 L1532.3,690.2 L1536.1,692.0 L1539.8,694.1 L1543.5,696.3 L1547.0,698.6 L1550.4,701.0 L1553.6,703.5 L1556.6,706.1 L1559.4,708.8 L1561.5,711.3 L1563.4,714.1 L1565.2,717.0 L1567.0,720.0 L1569.4,724.0 L1571.9,728.0 L1574.2,732.1 L1576.5,736.2 L1578.4,740.4 L1580.0,744.7 L1581.2,748.6 L1582.3,752.6 L1583.3,756.6 L1584.3,760.7 L1585.1,764.8 L1585.8,768.8"/><polygon points="1581.1,769.4 1587.4,782.0 1590.4,768.2"/>
<path d="M1394.7,583.4 L1397.1,585.1 L1400.3,587.5 L1403.6,590.0 L1406.8,592.4 L1410.1,594.8 L1413.3,597.2 L1416.5,599.6 L1419.8,602.0 L1423.0,604.4 L1426.2,606.8 L1429.5,609.2 L1432.7,611.6 L1435.9,614.0 L1439.2,616.4 L1442.4,618.8 L1445.6,621.2 L1448.9,623.6 L1450.3,624.7"/><polygon points="1447.5,628.4 1461.0,632.6 1453.1,620.9"/>
<path d="M1411.7,583.4 L1411.7,583.4 L1415.4,584.8 L1419.2,586.2 L1423.0,587.6 L1426.8,589.0 L1430.5,590.4 L1434.3,591.8 L1438.1,593.2 L1441.9,594.6 L1445.6,596.0 L1449.4,597.4 L1453.2,598.9 L1456.9,600.3 L1460.7,601.7 L1464.5,603.1 L1468.3,604.5 L1472.0,605.9 L1475.8,607.3 L1479.6,608.7 L1483.4,610.1 L1487.1,611.5 L1490.9,612.9 L1494.7,614.3 L1498.5,615.7 L1502.2,617.1 L1506.0,618.6 L1509.8,620.0 L1513.5,621.4 L1517.3,622.8 L1521.1,624.2 L1524.9,625.6 L1528.6,627.0 L1531.2,628.0"/><polygon points="1529.6,632.3 1543.7,632.6 1532.9,623.6"/>
<path d="M1429.1,583.4 L1432.8,584.3 L1436.7,585.2 L1440.6,586.2 L1444.6,587.2 L1448.5,588.1 L1452.4,589.1 L1456.3,590.1 L1460.3,591.0 L1464.2,592.0 L1468.1,593.0 L1472.1,594.0 L1476.0,594.9 L1479.9,595.9 L1483.9,596.9 L1487.8,597.8 L1491.7,598.8 L1495.7,599.8 L1499.6,600.7 L1503.5,601.7 L1507.5,602.7 L1511.4,603.6 L1515.3,604.6 L1519.3,605.6 L1523.2,606.5 L1527.1,607.5 L1531.1,608.5 L1535.0,609.5 L1538.9,610.4 L1542.9,611.4 L1546.8,612.4 L1550.7,613.3 L1554.7,614.3 L1558.6,615.3 L1562.5,616.2 L1566.5,617.2 L1570.4,618.2 L1574.3,619.1 L1578.3,620.1 L1582.2,621.1 L1586.1,622.0 L1590.1,623.0 L1594.0,624.0 L1597.9,625.0 L1601.9,625.9 L1605.8,626.9 L1609.7,627.9 L1613.6,628.8 L1617.6,629.8 L1621.5,630.8 L1625.4,631.7 L1629.4,632.7 L1631.6,633.2"/><polygon points="1630.4,637.8 1644.5,636.4 1632.7,628.7"/>
<path d="M1441.7,582.4 L1444.6,582.9 L1448.6,583.6 L1452.5,584.3 L1456.4,585.0 L1460.4,585.8 L1464.3,586.5 L1468.2,587.2 L1472.2,587.9 L1476.1,588.6 L1480.0,589.3 L1484.0,590.1 L1487.9,590.8 L1491.9,591.5 L1495.8,592.2 L1499.7,592.9 L1503.7,593.7 L1507.6,594.4 L1511.5,595.1 L1515.5,595.8 L1519.4,596.5 L1523.4,597.2 L1527.3,598.0 L1531.2,598.7 L1535.2,599.4 L1539.1,600.1 L1543.0,600.8 L1547.0,601.5 L1550.9,602.3 L1554.8,603.0 L1558.8,603.7 L1562.7,604.4 L1566.7,605.1 L1570.6,605.8 L1574.5,606.6 L1578.5,607.3 L1582.4,608.0 L1586.3,608.7 L1590.3,609.4 L1594.2,610.2 L1598.1,610.9 L1602.1,611.6 L1606.0,612.3 L1610.0,613.0 L1613.9,613.7 L1617.8,614.5 L1621.8,615.2 L1625.7,615.9 L1629.6,616.6 L1633.6,617.3 L1637.5,618.0 L1641.4,618.8 L1645.4,619.5 L1649.3,620.2 L1653.3,620.9 L1657.2,621.6 L1661.1,622.3 L1665.1,623.1 L1669.0,623.8 L1672.9,624.5 L1676.9,625.2 L1680.8,625.9 L1684.8,626.6 L1688.7,627.4 L1692.6,628.1 L1696.6,628.8 L1700.5,629.5 L1704.4,630.2 L1708.4,631.0 L1712.3,631.7 L1716.2,632.4 L1720.2,633.1 L1724.1,633.8 L1728.0,634.5"/><polygon points="1727.1,639.1 1741.1,636.9 1728.8,629.9"/>
<path d="M1441.7,582.6 L1443.0,582.7 L1447.0,583.0 L1451.0,583.3 L1455.0,583.6 L1459.0,583.9 L1463.0,584.1 L1467.0,584.4 L1471.1,584.6 L1475.1,584.9 L1479.1,585.1 L1483.1,585.3 L1487.1,585.5 L1491.2,585.7 L1495.2,585.9 L1499.2,586.1 L1503.3,586.3 L1507.3,586.4 L1511.3,586.6 L1515.4,586.8 L1519.4,586.9 L1523.5,587.1 L1527.5,587.2 L1531.5,587.4 L1535.6,587.5 L1539.6,587.6 L1543.7,587.8 L1547.7,587.9 L1551.7,588.0 L1555.8,588.2 L1559.8,588.3 L1563.9,588.4 L1567.9,588.6 L1571.9,588.7 L1576.0,588.9 L1580.0,589.0 L1584.0,589.1 L1588.0,589.3 L1592.0,589.4 L1596.0,589.5 L1600.0,589.7 L1604.0,589.8 L1608.0,589.9 L1612.0,590.1 L1616.0,590.2 L1620.0,590.3 L1624.0,590.4 L1628.0,590.5 L1632.0,590.7 L1636.0,590.8 L1640.0,590.9 L1644.0,591.0 L1648.0,591.1 L1652.0,591.2 L1656.0,591.3 L1660.0,591.4 L1664.0,591.6 L1668.0,591.7 L1672.0,591.8 L1676.0,591.9 L1680.0,592.0 L1684.0,592.1 L1688.0,592.2 L1692.0,592.3 L1696.0,592.4 L1700.0,592.5 L1704.2,592.6 L1708.4,592.7 L1712.6,592.8 L1716.8,592.9 L1721.0,593.0 L1725.2,593.1 L1729.4,593.1 L1733.6,593.2 L1737.8,593.3 L1742.0,593.4 L1746.2,593.5 L1750.4,593.6 L1754.6,593.7 L1758.8,593.9 L1763.0,594.0 L1767.2,594.1 L1771.5,594.3 L1775.7,594.5 L1780.0,594.7 L1784.3,594.9 L1788.5,595.1 L1792.7,595.4 L1796.9,595.7 L1801.0,596.0 L1805.0,596.4 L1808.9,597.0 L1812.7,597.8 L1816.6,598.9 L1820.5,600.3 L1824.4,601.9 L1828.2,603.6 L1832.0,605.6 L1835.7,607.6 L1839.3,609.8 L1842.9,612.1 L1846.3,614.5 L1849.6,616.8 L1852.8,619.2 L1855.8,621.6 L1858.9,624.4 L1861.8,627.5 L1864.5,630.9 L1867.2,634.5 L1869.8,638.1 L1872.4,641.8 L1875.0,645.3 L1877.8,648.8 L1880.7,652.4 L1883.5,655.9 L1886.2,659.5 L1888.8,663.2 L1891.0,667.0 L1892.9,670.5 L1894.8,674.1 L1896.7,677.8 L1898.5,681.5 L1900.3,685.2 L1902.0,689.0 L1903.6,692.9 L1905.0,696.8 L1906.3,700.6 L1907.4,704.6 L1908.2,708.5 L1908.8,712.4 L1909.3,716.7 L1909.8,721.1 L1910.2,725.5 L1910.6,729.9 L1910.9,734.4 L1911.1,738.9 L1911.2,743.3 L1911.3,747.7 L1911.2,751.7 L1910.8,755.7 L1910.2,759.7 L1909.4,763.7 L1908.4,767.7 L1907.4,771.7 L1906.2,775.5 L1905.0,779.3 L1903.7,783.0 L1902.1,786.7 L1899.9,790.3 L1897.5,793.7 L1895.0,797.0 L1891.9,800.9 L1888.5,804.7 L1884.9,808.1 L1881.0,810.8 L1877.2,812.7 L1873.1,814.3 L1868.7,815.7 L1864.3,816.9 L1860.0,818.0 L1855.9,819.0 L1851.7,819.9 L1847.5,820.7 L1843.3,821.4 L1839.1,822.1 L1834.8,822.8 L1830.6,823.4 L1826.6,824.0 L1822.5,824.5 L1818.5,825.0 L1814.4,825.5 L1810.4,826.1 L1806.3,826.6 L1802.3,827.1 L1798.2,827.5 L1794.1,828.0 L1790.1,828.5 L1786.0,828.9 L1781.9,829.4 L1777.9,829.8 L1773.8,830.2 L1769.7,830.6 L1765.6,831.0 L1761.6,831.4 L1757.5,831.8 L1753.4,832.2 L1749.3,832.6 L1745.3,832.9 L1741.2,833.3 L1737.1,833.6 L1733.0,833.9 L1729.0,834.2 L1724.9,834.6 L1720.8,834.9 L1716.7,835.2 L1712.7,835.5 L1708.6,835.7 L1704.5,836.0 L1700.5,836.3 L1696.5,836.5 L1692.5,836.8 L1688.5,837.0 L1684.5,837.3 L1680.5,837.5 L1676.5,837.8 L1672.5,838.0 L1668.5,838.3 L1664.5,838.5 L1660.5,838.7 L1656.5,839.0 L1652.6,839.2 L1648.6,839.4 L1644.6,839.7 L1640.6,839.9 L1636.6,840.1 L1632.6,840.3 L1628.6,840.5 L1624.6,840.8 L1620.6,841.0 L1616.6,841.2 L1612.6,841.4 L1608.6,841.6 L1604.6,841.8 L1600.6,842.0 L1596.6,842.2 L1592.6,842.4 L1588.6,842.6 L1584.6,842.8 L1580.6,843.0 L1576.6,843.2 L1572.5,843.4 L1568.5,843.6 L1564.5,843.8 L1560.5,844.0 L1556.5,844.2 L1552.5,844.4 L1548.5,844.5 L1544.5,844.7 L1540.5,844.9 L1536.5,845.1 L1532.5,845.3 L1528.5,845.4 L1524.5,845.6 L1520.5,845.8 L1516.5,846.0 L1512.5,846.1 L1508.5,846.3 L1504.5,846.5 L1500.5,846.7 L1496.5,846.8 L1492.5,847.0 L1488.5,847.2 L1484.5,847.3 L1480.5,847.5 L1476.5,847.6 L1472.4,847.8 L1468.4,848.0 L1464.4,848.1 L1460.4,848.3 L1456.4,848.4 L1452.4,848.6 L1448.4,848.7 L1444.4,848.9 L1440.4,849.1 L1436.4,849.2 L1432.4,849.4 L1428.4,849.5 L1424.4,849.7 L1420.4,849.8 L1416.4,850.0 L1412.3,850.1 L1408.3,850.2 L1404.3,850.4 L1400.3,850.5 L1396.3,850.7 L1392.3,850.8 L1388.3,851.0 L1384.3,851.1 L1380.3,851.3 L1376.3,851.4 L1372.3,851.6 L1368.3,851.7 L1364.3,851.8 L1360.3,852.0 L1356.2,852.1 L1352.2,852.3 L1348.2,852.4 L1344.2,852.5 L1340.2,852.7 L1336.2,852.8 L1332.2,853.0 L1328.2,853.1 L1324.2,853.2 L1320.2,853.4 L1316.2,853.5 L1312.2,853.7 L1308.2,853.8 L1304.2,854.0 L1300.2,854.1 L1296.1,854.2 L1292.1,854.4 L1288.1,854.5 L1284.1,854.7 L1280.1,854.8 L1276.1,854.9 L1272.1,855.1 L1268.1,855.2 L1264.1,855.4 L1260.1,855.5 L1256.1,855.6 L1252.1,855.8 L1248.1,855.9 L1244.1,856.1 L1240.1,856.2 L1236.0,856.4 L1232.0,856.5 L1228.0,856.7 L1224.0,856.8 L1220.0,857.0 L1216.0,857.1 L1212.0,857.3 L1208.0,857.4 L1204.0,857.5 L1200.0,857.7 L1195.9,857.9 L1191.9,858.0 L1187.8,858.2 L1183.8,858.3 L1179.7,858.5 L1175.7,858.6 L1171.6,858.8 L1167.6,858.9 L1163.5,859.1 L1159.5,859.2 L1155.4,859.4 L1151.4,859.5 L1147.3,859.7 L1143.2,859.8 L1139.2,860.0 L1135.1,860.1 L1131.1,860.3 L1127.0,860.4 L1123.0,860.6 L1118.9,860.7 L1114.9,860.8 L1110.8,861.0 L1106.8,861.1 L1102.7,861.3 L1098.7,861.4 L1094.6,861.5 L1090.5,861.7 L1086.5,861.8 L1082.4,861.9 L1078.4,862.1 L1074.3,862.2 L1070.3,862.3 L1066.2,862.4 L1062.2,862.5 L1058.1,862.7 L1054.1,862.8 L1050.0,862.9 L1046.0,863.0 L1042.0,863.1 L1038.0,863.2 L1034.0,863.3 L1030.0,863.4 L1026.0,863.6 L1022.0,863.7 L1018.0,863.8 L1014.0,863.9 L1010.0,864.0 L1006.0,864.1 L1002.0,864.2 L998.0,864.3 L994.0,864.4 L990.0,864.5 L986.0,864.6 L982.0,864.7 L978.0,864.8 L974.0,864.8 L970.0,864.9 L966.0,865.0 L962.0,865.1 L958.0,865.2 L954.0,865.3 L950.0,865.4 L946.0,865.5 L942.0,865.6 L938.0,865.7 L934.0,865.8 L930.0,865.8 L926.0,865.9 L922.0,866.0 L918.0,866.1 L914.0,866.2 L910.0,866.3 L906.0,866.4 L902.0,866.5 L898.0,866.5 L894.0,866.6 L890.0,866.7 L886.0,866.8 L882.0,866.9 L878.0,867.0 L874.0,867.1 L870.0,867.1 L866.0,867.2 L862.0,867.3 L858.0,867.4 L854.0,867.5 L850.0,867.6 L846.0,867.6 L842.0,867.7 L838.0,867.8 L834.0,867.9 L830.0,868.0 L829.3,868.0"/><polygon points="829.2,863.3 816.0,868.3 829.4,872.7"/>
<path d="M1990.0,576.3 L1990.0,576.4 L1986.0,576.7 L1982.0,577.1 L1978.0,577.5 L1974.0,577.9 L1970.0,578.2 L1966.0,578.6 L1962.0,579.0 L1958.0,579.4 L1954.0,579.7 L1950.0,580.1 L1946.0,580.5 L1942.0,580.9 L1938.0,581.2 L1934.0,581.6 L1930.0,582.0 L1926.0,582.4 L1922.0,582.8 L1918.0,583.1 L1913.9,583.5 L1909.9,583.9 L1905.9,584.3 L1901.9,584.6 L1897.9,585.0 L1893.9,585.4 L1889.9,585.8 L1885.9,586.1 L1881.9,586.5 L1877.9,586.9 L1873.9,587.3 L1869.9,587.7 L1865.9,588.0 L1861.9,588.4 L1857.9,588.8 L1853.9,589.2 L1849.9,589.5 L1845.9,589.9 L1841.9,590.3 L1837.9,590.7 L1833.9,591.0 L1829.9,591.4 L1825.9,591.8 L1821.9,592.2 L1817.9,592.6 L1813.9,592.9 L1809.9,593.3 L1805.9,593.7 L1801.9,594.1 L1797.9,594.4 L1793.9,594.8 L1789.9,595.2 L1785.9,595.6 L1781.9,595.9 L1777.9,596.3 L1773.9,596.7 L1769.9,597.1 L1765.9,597.5 L1761.9,597.8 L1757.9,598.2 L1753.9,598.6 L1749.9,599.0 L1745.9,599.3 L1741.9,599.7 L1737.9,600.1 L1733.9,600.5 L1729.9,600.8 L1725.9,601.2 L1721.9,601.6 L1717.9,602.0 L1713.9,602.3 L1709.9,602.7 L1705.9,603.1 L1701.9,603.5 L1697.9,603.9 L1693.9,604.2 L1689.9,604.6 L1685.9,605.0 L1681.9,605.4 L1677.9,605.7 L1673.9,606.1 L1669.9,606.5 L1665.9,606.9 L1661.9,607.2 L1657.9,607.6 L1653.8,608.0 L1649.8,608.4 L1645.8,608.8 L1641.8,609.1 L1637.8,609.5 L1633.8,609.9 L1629.8,610.3 L1625.8,610.6 L1621.8,611.0 L1617.8,611.4 L1613.8,611.8 L1609.8,612.1 L1605.8,612.5 L1601.8,612.9 L1597.8,613.3 L1593.8,613.7 L1589.8,614.0 L1585.8,614.4 L1581.8,614.8 L1577.8,615.2 L1573.8,615.5 L1569.8,615.9 L1565.8,616.3 L1561.8,616.7 L1557.8,617.0 L1553.8,617.4 L1549.8,617.8 L1545.8,618.2 L1541.8,618.5 L1537.8,618.9 L1533.8,619.3 L1529.8,619.7 L1525.8,620.1 L1521.8,620.4 L1517.8,620.8 L1513.8,621.2 L1509.8,621.6 L1505.8,621.9 L1501.8,622.3 L1497.8,622.7 L1493.8,623.1 L1489.8,623.4 L1485.8,623.8 L1481.8,624.2 L1477.8,624.6 L1473.8,625.0 L1469.8,625.3 L1465.8,625.7 L1461.8,626.1 L1457.8,626.5 L1453.8,626.8 L1449.8,627.2 L1445.8,627.6 L1441.8,628.0 L1437.8,628.3 L1433.8,628.7 L1429.8,629.1 L1425.8,629.5 L1421.8,629.9 L1417.8,630.2 L1413.8,630.6 L1409.8,631.0 L1405.8,631.4 L1401.8,631.7 L1397.8,632.1 L1393.8,632.5 L1389.8,632.9 L1385.7,633.2 L1381.7,633.6 L1377.7,634.0 L1373.7,634.4 L1369.7,634.8 L1365.7,635.1 L1361.7,635.5 L1357.7,635.9 L1353.7,636.3 L1349.7,636.6 L1345.7,637.0 L1341.7,637.4 L1337.7,637.8 L1333.7,638.1 L1331.6,638.3"/><polygon points="1331.2,633.7 1318.4,639.6 1332.1,643.0"/>
<path d="M2024.0,583.4 L2020.9,584.9 L2017.2,586.7 L2013.6,588.5 L2009.9,590.3 L2006.3,592.0 L2002.7,593.8 L1999.0,595.6 L1995.4,597.4 L1991.7,599.1 L1988.1,600.9 L1984.4,602.7 L1980.8,604.5 L1977.2,606.3 L1973.5,608.0 L1969.9,609.8 L1966.2,611.6 L1962.6,613.4 L1958.9,615.1 L1955.3,616.9 L1951.7,618.7 L1948.0,620.5 L1944.4,622.2 L1940.7,624.0 L1937.1,625.8 L1933.4,627.6 L1929.8,629.3 L1926.2,631.1 L1922.5,632.9 L1918.9,634.7 L1915.2,636.4 L1911.6,638.2 L1907.9,640.0 L1904.3,641.8 L1900.6,643.5 L1897.0,645.3 L1893.3,647.1 L1889.6,648.9 L1886.0,650.7 L1882.3,652.4 L1878.6,654.2 L1874.9,656.0 L1871.3,657.8 L1867.6,659.6 L1863.9,661.3 L1860.2,663.1 L1856.6,664.9 L1852.9,666.7 L1849.2,668.5 L1845.5,670.2 L1841.8,672.0 L1838.2,673.8 L1834.5,675.6 L1830.8,677.3 L1827.1,679.1 L1823.4,680.9 L1819.8,682.7 L1816.1,684.4 L1812.4,686.2 L1808.7,688.0 L1805.0,689.8 L1801.4,691.6 L1797.7,693.3 L1794.0,695.1 L1790.3,696.9 L1786.6,698.7 L1783.0,700.4 L1779.3,702.2 L1775.6,704.0 L1771.9,705.8 L1768.2,707.5 L1764.6,709.3 L1760.9,711.1 L1757.2,712.9 L1753.5,714.7 L1749.9,716.4 L1746.2,718.2 L1742.5,720.0 L1738.8,721.8 L1735.2,723.6 L1731.5,725.3 L1727.8,727.1 L1724.2,728.9 L1720.5,730.7 L1716.8,732.4 L1713.2,734.2 L1709.5,736.0 L1705.8,737.8 L1702.2,739.6 L1698.5,741.3 L1694.8,743.1 L1691.2,744.9 L1687.5,746.7 L1683.8,748.4 L1680.2,750.2 L1676.5,752.0 L1672.8,753.8 L1669.2,755.6 L1665.5,757.3 L1661.8,759.1 L1658.2,760.9 L1654.5,762.7 L1650.8,764.5 L1647.2,766.2 L1643.5,768.0 L1639.8,769.8 L1636.2,771.6 L1632.5,773.4 L1628.8,775.1 L1626.6,776.2"/><polygon points="1624.6,772.0 1614.6,782.0 1628.6,780.4"/>
<path d="M2055.2,583.4 L2056.1,585.6 L2057.6,589.3 L2059.1,593.1 L2060.6,596.8 L2062.2,600.5 L2063.7,604.3 L2065.2,608.0 L2066.7,611.7 L2068.2,615.5 L2069.8,619.2 L2070.2,620.3"/><polygon points="2065.9,622.0 2075.2,632.6 2074.5,618.5"/>
<path d="M2077.6,583.4 L2079.6,584.3 L2083.3,586.0 L2087.0,587.7 L2090.7,589.3 L2094.4,591.0 L2098.1,592.7 L2101.8,594.4 L2105.5,596.1 L2109.2,597.8 L2112.9,599.5 L2116.6,601.2 L2120.3,602.9 L2124.0,604.6 L2127.7,606.3 L2131.4,608.0 L2135.1,609.7 L2138.8,611.4 L2142.5,613.1 L2146.2,614.8 L2149.9,616.5 L2153.6,618.2 L2157.3,619.9 L2161.0,621.6 L2164.7,623.3 L2168.4,625.0 L2172.1,626.6 L2173.0,627.1"/><polygon points="2171.1,631.3 2185.2,632.6 2175.0,622.8"/>
<path d="M2110.0,575.1 L2110.6,575.2 L2114.7,575.6 L2118.8,575.9 L2122.8,576.3 L2126.9,576.7 L2131.0,577.1 L2135.1,577.5 L2139.2,577.9 L2143.3,578.3 L2147.4,578.8 L2151.4,579.2 L2155.5,579.7 L2159.6,580.2 L2163.6,580.7 L2167.7,581.3 L2171.7,581.9 L2175.7,582.5 L2179.7,583.1 L2183.7,583.8 L2187.8,584.6 L2191.9,585.4 L2196.1,586.3 L2200.2,587.3 L2204.4,588.3 L2208.6,589.5 L2212.7,590.7 L2216.8,592.0 L2220.8,593.3 L2224.7,594.8 L2228.5,596.3 L2232.2,597.9 L2235.8,599.6 L2239.2,601.4 L2242.8,603.6 L2246.5,606.2 L2250.1,609.1 L2253.6,612.3 L2256.9,615.7 L2259.8,619.3 L2262.4,622.9 L2264.4,626.6 L2266.1,630.3 L2267.8,634.3 L2269.2,638.5 L2270.1,642.7 L2270.5,646.8 L2270.1,650.7 L2269.1,654.6 L2267.6,658.6 L2265.8,662.4 L2263.8,666.1 L2261.9,669.5 L2259.8,672.7 L2257.4,675.9 L2254.7,678.9 L2251.8,681.9 L2248.8,684.7 L2245.6,687.4 L2242.4,689.9 L2239.2,692.2 L2235.9,694.4 L2232.5,696.5 L2229.0,698.6 L2225.3,700.5 L2221.6,702.4 L2217.9,704.2 L2214.1,705.9 L2210.2,707.6 L2206.4,709.2 L2202.6,710.8 L2198.8,712.4 L2195.1,713.9 L2191.3,715.5 L2187.5,717.0 L2183.7,718.4 L2179.9,719.9 L2176.0,721.3 L2172.2,722.7 L2168.3,724.1 L2164.5,725.4 L2160.6,726.7 L2156.7,728.0 L2152.8,729.2 L2148.9,730.5 L2145.0,731.7 L2141.1,732.8 L2137.2,734.0 L2133.3,735.1 L2129.4,736.2 L2125.4,737.2 L2121.5,738.3 L2117.5,739.3 L2113.6,740.3 L2109.6,741.3 L2105.6,742.2 L2101.6,743.1 L2097.6,744.1 L2093.6,745.0 L2089.6,745.9 L2085.6,746.7 L2081.6,747.6 L2077.6,748.5 L2073.6,749.4 L2069.6,750.2 L2065.6,751.1 L2061.6,751.9 L2057.6,752.8 L2053.6,753.7 L2049.6,754.5 L2045.5,755.4 L2041.5,756.2 L2037.5,757.1 L2033.4,757.9 L2029.4,758.7 L2025.4,759.6 L2021.3,760.4 L2017.3,761.2 L2013.3,762.0 L2009.2,762.8 L2005.2,763.6 L2001.2,764.4 L1997.1,765.2 L1993.1,766.0 L1989.0,766.8 L1985.0,767.6 L1981.0,768.4 L1976.9,769.2 L1972.9,769.9 L1968.8,770.7 L1964.8,771.5 L1960.7,772.2 L1956.7,773.0 L1952.5,773.8 L1948.4,774.6 L1944.2,775.3 L1940.0,776.1 L1935.9,776.8 L1931.7,777.6 L1927.5,778.3 L1923.4,779.0 L1919.2,779.8 L1915.0,780.5 L1910.8,781.3 L1906.7,782.0 L1902.5,782.7 L1898.3,783.5 L1894.2,784.2 L1890.0,785.0 L1886.0,785.7 L1884.3,786.0"/><polygon points="1883.5,781.5 1871.2,788.5 1885.2,790.6"/>
<path d="M293.4,658.0 L293.7,658.1 L297.2,660.2 L300.7,662.4 L304.2,664.5 L307.7,666.6 L311.2,668.8 L314.7,670.9 L318.2,673.0 L321.7,675.2 L325.2,677.3 L328.7,679.4 L332.2,681.6 L335.8,683.7 L339.3,685.9 L342.8,688.0 L346.3,690.1 L349.8,692.3 L353.3,694.4 L356.8,696.5 L360.3,698.7 L363.2,700.4"/><polygon points="360.8,704.4 374.6,707.3 365.6,696.4"/>
<path d="M496.0,658.0 L495.7,658.1 L492.3,660.2 L488.8,662.4 L485.4,664.5 L481.9,666.6 L478.4,668.8 L475.0,670.9 L471.5,673.0 L468.1,675.2 L464.6,677.3 L461.1,679.4 L457.7,681.6 L454.2,683.7 L450.8,685.9 L447.3,688.0 L443.8,690.1 L440.4,692.3 L436.9,694.4 L433.5,696.5 L430.0,698.7 L427.3,700.3"/><polygon points="424.8,696.4 415.9,707.3 429.7,704.3"/>
<path d="M970.9,658.0 L969.6,658.5 L965.8,659.9 L962.1,661.4 L958.4,662.9 L954.6,664.3 L950.9,665.8 L947.1,667.3 L943.4,668.7 L939.7,670.2 L935.9,671.7 L932.2,673.1 L928.5,674.6 L924.7,676.1 L921.0,677.5 L917.2,679.0 L913.5,680.5 L909.8,681.9 L906.0,683.4 L902.3,684.8 L898.6,686.3 L894.8,687.8 L891.1,689.2 L887.3,690.7 L883.6,692.2 L879.9,693.6 L876.1,695.1 L872.4,696.6 L868.7,698.0 L864.9,699.5 L861.2,701.0 L857.4,702.4 L857.3,702.5"/><polygon points="855.6,698.1 844.9,707.3 859.0,706.8"/>
<path d="M990.3,658.0 L988.6,659.7 L985.7,662.5 L982.8,665.4 L979.8,668.3 L976.9,671.2 L974.0,674.0 L971.1,676.9 L968.2,679.8 L965.2,682.6 L962.3,685.5 L959.4,688.4 L956.5,691.3 L953.6,694.1 L950.7,697.0 L949.7,698.0"/><polygon points="946.4,694.7 940.2,707.3 952.9,701.3"/>
<path d="M1034.2,658.0 L1036.7,659.0 L1040.5,660.5 L1044.2,662.1 L1047.9,663.6 L1051.6,665.1 L1055.4,666.6 L1059.1,668.2 L1062.8,669.7 L1066.6,671.2 L1070.3,672.7 L1074.0,674.3 L1077.7,675.8 L1081.5,677.3 L1085.2,678.8 L1088.9,680.4 L1092.6,681.9 L1096.4,683.4 L1100.1,684.9 L1103.8,686.5 L1107.5,688.0 L1111.3,689.5 L1115.0,691.0 L1118.7,692.6 L1122.4,694.1 L1126.2,695.6 L1129.9,697.1 L1133.6,698.7 L1137.4,700.2 L1141.1,701.7 L1142.5,702.3"/><polygon points="1140.7,706.6 1154.8,707.3 1144.3,698.0"/>
<path d="M1197.0,655.5 L1194.1,656.0 L1190.1,656.6 L1186.2,657.3 L1182.2,658.0 L1178.2,658.6 L1174.2,659.3 L1170.3,660.0 L1166.3,660.6 L1162.3,661.3 L1158.3,662.0 L1154.4,662.6 L1150.4,663.3 L1146.4,664.0 L1142.5,664.6 L1138.5,665.3 L1134.5,666.0 L1130.5,666.6 L1126.6,667.3 L1122.6,668.0 L1118.6,668.6 L1114.6,669.3 L1110.7,670.0 L1106.7,670.6 L1102.7,671.3 L1098.7,672.0 L1094.8,672.6 L1090.8,673.3 L1086.8,674.0 L1082.8,674.6 L1078.9,675.3 L1074.9,676.0 L1070.9,676.6 L1066.9,677.3 L1063.0,678.0 L1059.0,678.6 L1055.0,679.3 L1051.0,680.0 L1047.1,680.6 L1043.1,681.3 L1039.1,682.0 L1035.2,682.6 L1031.2,683.3 L1027.2,684.0 L1023.2,684.7 L1019.3,685.3 L1015.3,686.0 L1011.3,686.7 L1007.3,687.3 L1003.4,688.0 L999.4,688.7 L995.4,689.3 L991.4,690.0 L987.5,690.7 L983.5,691.3 L979.5,692.0 L975.5,692.7 L971.6,693.3 L967.6,694.0 L963.6,694.7 L959.6,695.3 L955.7,696.0 L951.7,696.7 L947.7,697.3 L943.7,698.0 L939.8,698.7 L935.8,699.3 L931.8,700.0 L927.8,700.7 L923.9,701.3 L919.9,702.0 L915.9,702.7 L912.0,703.3 L908.0,704.0 L904.0,704.7 L900.0,705.3 L896.1,706.0 L892.1,706.7 L888.1,707.3 L884.1,708.0 L880.2,708.7 L876.2,709.3 L872.2,710.0 L871.1,710.2"/><polygon points="870.3,705.6 857.9,712.4 871.9,714.8"/>
<path d="M1197.0,654.7 L1193.2,655.4 L1189.2,656.3 L1185.0,657.2 L1180.9,658.1 L1176.8,659.0 L1172.7,660.0 L1168.5,661.0 L1164.4,662.1 L1160.3,663.2 L1156.2,664.4 L1152.2,665.6 L1148.2,666.8 L1144.2,668.1 L1140.3,669.5 L1136.4,670.9 L1132.7,672.3 L1128.9,673.9 L1125.3,675.5 L1121.7,677.1 L1118.1,678.9 L1114.4,680.8 L1110.6,683.0 L1106.7,685.3 L1102.9,687.7 L1099.3,690.3 L1095.8,693.1 L1092.6,695.9 L1089.7,698.9 L1087.1,702.0 L1085.1,705.1 L1083.5,708.3 L1082.2,711.8 L1081.0,715.7 L1079.9,719.8 L1079.1,724.1 L1078.5,728.4 L1078.3,732.6 L1078.6,737.1 L1079.2,741.5 L1080.2,746.0 L1081.1,750.5 L1082.0,755.0 L1083.0,759.8 L1084.1,764.6 L1084.9,769.4 L1085.3,774.2 L1085.3,778.3 L1085.3,782.5 L1085.2,786.7 L1085.1,790.9 L1085.0,795.0 L1084.8,796.8 L1084.5,798.6 L1084.0,800.4 L1083.5,802.0 L1082.7,803.4 L1081.6,804.8 L1080.3,806.1 L1079.0,807.0 L1077.0,807.9 L1074.7,808.7 L1072.3,809.3 L1070.0,809.8 L1065.8,810.6 L1061.5,811.3 L1057.2,811.9 L1052.9,812.4 L1048.6,812.9 L1044.3,813.4 L1040.0,814.0 L1036.0,814.5 L1032.0,815.1 L1028.0,815.6 L1024.0,816.2 L1020.0,816.7 L1016.0,817.3 L1012.0,817.8 L1008.0,818.3 L1004.0,818.9 L1000.0,819.4 L996.0,819.9 L992.0,820.5 L988.0,821.0 L984.0,821.5 L980.0,822.0 L976.0,822.6 L972.0,823.1 L968.0,823.6 L964.0,824.1 L960.0,824.7 L956.0,825.2 L952.0,825.7 L948.0,826.2 L944.0,826.8 L940.0,827.3 L936.0,827.8 L932.0,828.3 L928.0,828.8 L924.0,829.4 L920.0,829.9 L916.0,830.4 L912.0,830.9 L908.0,831.5 L904.0,832.0 L900.0,832.5 L896.0,833.0 L892.1,833.5 L888.1,834.1 L884.1,834.6 L880.1,835.1 L876.2,835.6 L872.2,836.1 L868.2,836.6 L864.3,837.2 L860.3,837.7 L856.3,838.2 L852.3,838.7 L848.4,839.2 L844.4,839.7 L840.4,840.2 L836.5,840.8 L832.5,841.3 L828.5,841.8 L824.5,842.3 L820.6,842.8 L816.6,843.3 L812.6,843.8 L808.6,844.3 L804.7,844.8 L800.7,845.4 L796.7,845.9 L792.8,846.4 L788.8,846.9 L784.8,847.4 L780.8,847.9 L776.9,848.4 L772.9,848.9 L768.9,849.4 L765.0,849.9 L761.0,850.5 L757.0,851.0 L753.0,851.5 L749.1,852.0 L745.1,852.5 L741.1,853.0 L737.1,853.5 L733.2,854.0 L729.2,854.5 L725.2,855.0 L721.3,855.5 L717.3,856.1 L713.3,856.6 L709.3,857.1 L705.4,857.6 L701.4,858.1 L697.4,858.6 L693.4,859.1 L689.5,859.6 L685.5,860.1 L681.5,860.6 L677.6,861.1 L673.6,861.7 L669.6,862.2 L665.6,862.7 L661.7,863.2 L658.6,863.6"/><polygon points="658.0,858.9 645.3,865.3 659.2,868.2"/>
<path d="M1270.1,658.0 L1271.8,659.7 L1274.6,662.5 L1277.5,665.4 L1280.3,668.3 L1283.1,671.2 L1285.9,674.0 L1288.8,676.9 L1291.6,679.8 L1294.4,682.6 L1297.2,685.5 L1300.0,688.4 L1302.9,691.3 L1305.7,694.1 L1308.5,697.0 L1309.3,697.8"/><polygon points="1306.0,701.1 1318.7,707.3 1312.6,694.6"/>
<path d="M1285.1,658.0 L1287.0,658.9 L1290.7,660.6 L1294.4,662.3 L1298.1,664.0 L1301.7,665.7 L1305.4,667.4 L1309.1,669.1 L1312.7,670.8 L1316.4,672.5 L1320.1,674.2 L1323.7,675.9 L1327.4,677.6 L1331.1,679.3 L1334.7,681.0 L1338.4,682.6 L1342.1,684.3 L1345.7,686.0 L1349.4,687.7 L1353.1,689.4 L1356.7,691.1 L1360.4,692.8 L1364.1,694.5 L1367.7,696.2 L1371.4,697.9 L1375.1,699.6 L1378.7,701.3 L1379.6,701.7"/><polygon points="1377.7,706.0 1391.7,707.3 1381.6,697.5"/>
<path d="M1318.4,655.3 L1321.4,655.8 L1325.3,656.4 L1329.3,657.1 L1333.3,657.8 L1337.2,658.5 L1341.2,659.2 L1345.2,659.9 L1349.1,660.6 L1353.0,661.4 L1357.0,662.2 L1360.9,663.0 L1364.8,663.8 L1368.7,664.6 L1372.6,665.5 L1376.5,666.4 L1380.3,667.3 L1384.2,668.3 L1388.0,669.3 L1391.8,670.3 L1395.7,671.4 L1399.6,672.6 L1403.4,673.8 L1407.3,675.1 L1411.2,676.5 L1415.0,677.9 L1418.8,679.3 L1422.6,680.9 L1426.2,682.5 L1429.9,684.2 L1433.4,685.9 L1436.9,687.7 L1440.2,689.6 L1443.9,691.8 L1447.9,694.2 L1451.9,696.9 L1455.7,699.7 L1459.2,702.7 L1462.3,705.9 L1464.7,709.3 L1466.3,712.8 L1466.9,714.9 L1467.5,717.2 L1467.8,719.6 L1468.0,722.0 L1467.8,724.1 L1467.4,726.2 L1466.9,728.3 L1466.3,730.2 L1464.7,733.6 L1462.4,736.8 L1459.5,739.9 L1456.3,742.8 L1452.8,745.6 L1449.4,748.1 L1446.0,750.5 L1442.7,752.7 L1439.3,754.7 L1435.7,756.6 L1432.0,758.4 L1428.3,760.2 L1424.5,761.8 L1420.7,763.4 L1417.0,765.0 L1413.2,766.5 L1409.3,768.0 L1405.5,769.4 L1401.6,770.8 L1397.6,772.1 L1393.7,773.4 L1389.8,774.8 L1385.9,776.1 L1382.3,777.4"/><polygon points="1380.7,773.0 1369.8,782.0 1383.9,781.8"/>
<path d="M60.3,732.7 L61.2,735.7 L62.4,739.7 L63.6,743.6 L64.8,747.5 L66.0,751.5 L67.2,755.4 L68.3,759.3 L69.5,763.2 L70.7,767.2 L71.9,771.1 L73.1,775.0 L74.3,779.0 L75.4,782.9 L76.6,786.8 L77.8,790.8 L79.0,794.7 L80.2,798.6 L81.4,802.6 L82.6,806.5 L83.7,810.4 L84.9,814.3 L86.1,818.3 L87.3,822.2 L88.5,826.1 L89.7,830.0 L90.8,834.0 L92.0,837.9 L93.2,841.8 L93.8,843.9"/><polygon points="89.4,845.2 97.7,856.6 98.3,842.5"/>
<path d="M767.3,729.3 L765.5,729.6 L761.6,730.4 L757.7,731.2 L753.8,732.0 L749.9,732.8 L745.9,733.6 L742.0,734.4 L738.1,735.2 L734.2,736.0 L730.3,736.8 L726.3,737.6 L722.4,738.4 L718.5,739.2 L714.6,740.0 L710.6,740.8 L706.7,741.6 L702.8,742.4 L698.9,743.2 L695.0,744.0 L691.0,744.8 L687.1,745.6 L683.2,746.4 L679.3,747.2 L675.4,748.0 L671.4,748.8 L667.5,749.5 L663.6,750.3 L659.7,751.1 L655.7,751.9 L651.8,752.7 L647.9,753.5 L644.0,754.3 L640.1,755.1 L636.1,755.9 L632.2,756.7 L628.3,757.5 L624.4,758.3 L620.4,759.1 L616.5,759.9 L612.6,760.7 L608.7,761.5 L604.8,762.3 L600.8,763.1 L596.9,763.9 L593.0,764.7 L589.1,765.5 L585.2,766.3 L581.2,767.1 L577.3,767.9 L573.4,768.7 L569.5,769.5 L565.6,770.3 L561.6,771.1 L557.7,771.9 L553.8,772.8 L549.9,773.6 L546.0,774.4 L542.0,775.2 L538.1,776.0 L534.2,776.8 L530.3,777.6 L526.4,778.4 L522.4,779.2 L518.5,780.0 L514.6,780.8 L510.7,781.6 L506.8,782.4 L502.8,783.3 L498.9,784.1 L495.0,784.9 L491.1,785.7 L487.2,786.5 L483.3,787.3 L479.3,788.1 L475.4,789.0 L471.5,789.8 L467.6,790.6 L463.7,791.4 L459.7,792.2 L455.8,793.1 L451.9,793.9 L448.0,794.7 L444.1,795.5 L440.1,796.4 L436.2,797.2 L432.2,798.0 L428.3,798.8 L424.4,799.7 L420.4,800.5 L416.5,801.3 L412.5,802.2 L408.6,803.0 L404.7,803.9 L400.7,804.7 L396.8,805.5 L392.8,806.4 L388.9,807.2 L385.0,808.0 L381.0,808.9 L377.1,809.7 L373.1,810.6 L369.2,811.4 L365.3,812.3 L361.3,813.1 L357.4,813.9 L353.4,814.8 L349.5,815.6 L345.6,816.5 L341.6,817.3 L337.7,818.2 L333.8,819.0 L329.8,819.9 L325.9,820.7 L321.9,821.6 L318.0,822.4 L314.1,823.3 L310.1,824.1 L306.2,825.0 L302.3,825.8 L298.3,826.7 L294.4,827.5 L290.5,828.4 L286.5,829.2 L282.6,830.1 L278.6,830.9 L274.7,831.8 L270.8,832.6 L266.8,833.5 L262.9,834.3 L259.0,835.2 L255.0,836.0 L251.1,836.9 L247.2,837.8 L243.2,838.6 L239.3,839.5 L235.3,840.3 L231.4,841.2 L227.5,842.0 L223.5,842.9 L219.6,843.7 L215.7,844.6 L211.7,845.4 L207.8,846.3 L203.9,847.2 L199.9,848.0 L196.0,848.9 L192.0,849.7 L188.1,850.6 L184.2,851.4 L180.2,852.3 L176.3,853.1 L172.4,854.0 L168.4,854.8 L165.2,855.5"/><polygon points="164.2,851.0 152.2,858.4 166.2,860.1"/>
<path d="M769.6,732.7 L766.5,733.6 L762.7,734.7 L758.9,735.8 L755.0,737.0 L751.2,738.1 L747.4,739.2 L743.5,740.4 L739.7,741.5 L735.8,742.6 L732.0,743.8 L728.2,744.9 L724.3,746.0 L720.5,747.2 L716.7,748.3 L712.8,749.4 L709.0,750.6 L705.1,751.7 L701.3,752.8 L697.5,754.0 L693.6,755.1 L689.8,756.2 L685.9,757.4 L682.1,758.5 L678.3,759.6 L674.4,760.7 L670.6,761.9 L666.8,763.0 L662.9,764.1 L659.1,765.3 L655.2,766.4 L651.4,767.5 L647.6,768.7 L643.7,769.8 L639.9,770.9 L636.1,772.1 L632.2,773.2 L628.4,774.3 L624.5,775.5 L620.7,776.6 L616.9,777.7 L613.0,778.9 L609.2,780.0 L607.4,780.5"/><polygon points="606.1,776.0 594.6,784.3 608.7,785.0"/>
<path d="M785.0,732.7 L783.0,733.6 L779.3,735.3 L775.6,737.0 L772.0,738.7 L768.3,740.4 L764.6,742.1 L760.9,743.8 L757.2,745.5 L753.5,747.2 L749.8,748.9 L746.1,750.6 L742.4,752.3 L738.7,754.0 L735.0,755.7 L731.3,757.4 L727.6,759.0 L723.9,760.7 L720.2,762.4 L716.5,764.1 L712.8,765.8 L709.1,767.5 L705.4,769.2 L701.7,770.9 L698.0,772.6 L694.3,774.3 L690.6,776.0 L689.7,776.5"/><polygon points="687.7,772.2 677.6,782.0 691.6,780.7"/>
<path d="M795.7,732.7 L793.3,734.5 L790.1,736.9 L786.9,739.3 L783.7,741.7 L780.5,744.1 L777.3,746.5 L774.0,748.9 L770.8,751.3 L767.6,753.7 L764.4,756.1 L761.2,758.5 L758.0,760.9 L754.8,763.4 L751.5,765.8 L748.3,768.2 L745.1,770.6 L741.9,773.0 L738.7,775.4 L735.5,777.8 L732.3,780.2 L729.1,782.6 L725.8,785.1 L722.6,787.5 L719.4,789.9 L716.2,792.3 L713.0,794.7 L709.7,797.2 L706.4,799.7 L703.1,802.2 L699.8,804.6 L696.5,807.1 L693.2,809.6 L689.9,812.1 L686.6,814.6 L683.3,817.1 L680.0,819.6 L676.7,822.0 L673.4,824.5 L670.1,827.0 L666.8,829.5 L663.5,832.0 L660.2,834.5 L656.9,837.0 L653.6,839.4 L650.3,841.9 L647.0,844.4 L643.7,846.9 L641.4,848.6"/><polygon points="638.6,844.9 630.8,856.6 644.3,852.3"/>
<path d="M808.9,732.7 L808.0,735.7 L806.9,739.7 L805.8,743.6 L804.6,747.5 L803.5,751.4 L802.3,755.4 L801.2,759.3 L800.1,763.2 L798.9,767.2 L797.8,771.1 L796.6,775.0 L795.5,779.0 L794.4,782.9 L793.3,786.8 L792.1,790.8 L791.0,794.7 L789.9,798.6 L788.8,802.5 L787.7,806.5 L786.5,810.4 L785.4,814.3 L784.3,818.2 L783.2,822.2 L782.1,826.1 L781.0,830.0 L779.9,834.0 L778.8,837.9 L777.7,841.8 L777.2,843.8"/><polygon points="772.7,842.5 773.6,856.6 781.7,845.1"/>
<path d="M816.7,732.7 L817.7,735.7 L818.9,739.7 L820.2,743.6 L821.5,747.5 L822.7,751.5 L824.0,755.4 L825.3,759.3 L826.6,763.2 L827.8,767.2 L828.5,769.3"/><polygon points="824.1,770.8 832.6,782.0 833.0,767.9"/>
<path d="M847.4,732.7 L850.6,733.8 L854.4,735.2 L858.2,736.6 L862.0,738.0 L865.9,739.4 L869.7,740.8 L873.5,742.1 L877.3,743.5 L881.1,744.9 L884.9,746.3 L888.7,747.7 L892.5,749.0 L896.3,750.4 L900.1,751.8 L903.9,753.2 L907.7,754.6 L911.5,756.0 L915.3,757.4 L919.1,758.7 L922.9,760.1 L926.7,761.5 L930.5,762.9 L934.3,764.3 L938.1,765.6 L941.9,767.0 L945.7,768.4 L949.5,769.8 L953.3,771.2 L957.1,772.6 L960.9,774.0 L964.7,775.3 L968.6,776.7 L970.6,777.5"/><polygon points="969.0,781.9 983.2,782.0 972.2,773.1"/>
<path d="M857.9,730.0 L860.9,730.6 L865.0,731.2 L868.9,731.8 L872.9,732.4 L876.8,732.9 L880.8,733.5 L884.7,734.1 L888.7,734.6 L892.7,735.1 L896.6,735.7 L900.6,736.2 L904.5,736.7 L908.5,737.2 L912.5,737.8 L916.4,738.3 L920.4,738.7 L924.4,739.2 L928.4,739.7 L932.3,740.2 L936.3,740.7 L940.3,741.1 L944.2,741.6 L948.2,742.0 L952.2,742.5 L956.2,742.9 L960.2,743.4 L964.2,743.8 L968.1,744.2 L972.1,744.7 L976.1,745.1 L980.1,745.5 L984.1,745.9 L988.1,746.3 L992.1,746.7 L996.1,747.1 L1000.0,747.5 L1004.0,747.9 L1008.0,748.3 L1012.0,748.6 L1016.0,749.0 L1020.0,749.4 L1024.0,749.8 L1028.0,750.1 L1032.0,750.5 L1036.0,750.9 L1040.0,751.2 L1044.0,751.6 L1048.0,751.9 L1052.0,752.3 L1056.0,752.6 L1060.0,753.0 L1064.0,753.3 L1068.0,753.7 L1072.0,754.0 L1076.0,754.3 L1080.0,754.7 L1084.0,755.0 L1088.0,755.3 L1092.0,755.7 L1096.0,756.0 L1100.0,756.3 L1104.0,756.7 L1108.0,757.0 L1112.0,757.3 L1116.0,757.7 L1120.0,758.0 L1124.0,758.3 L1128.0,758.7 L1132.0,759.0 L1136.0,759.3 L1140.0,759.6 L1144.0,760.0 L1148.0,760.3 L1152.0,760.6 L1156.0,761.0 L1160.0,761.3 L1164.0,761.6 L1168.0,762.0 L1172.0,762.3 L1176.0,762.6 L1180.0,763.0 L1184.0,763.3 L1188.0,763.7 L1192.0,764.0 L1196.0,764.4 L1200.0,764.7 L1204.0,765.0 L1208.0,765.4 L1212.0,765.7 L1216.0,766.1 L1220.0,766.4 L1224.0,766.8 L1228.0,767.1 L1232.0,767.4 L1236.0,767.8 L1240.0,768.1 L1244.0,768.5 L1248.0,768.8 L1252.0,769.1 L1256.0,769.4 L1260.0,769.8 L1264.0,770.1 L1268.0,770.4 L1272.0,770.8 L1276.0,771.1 L1280.1,771.4 L1284.1,771.7 L1288.1,772.0 L1292.1,772.4 L1296.1,772.7 L1300.1,773.0 L1304.1,773.3 L1308.1,773.6 L1312.1,773.9 L1316.1,774.2 L1320.1,774.6 L1324.1,774.9 L1328.1,775.2 L1332.1,775.5 L1336.1,775.8 L1340.1,776.1 L1344.1,776.4 L1348.1,776.7 L1352.1,777.0 L1356.1,777.3 L1360.1,777.6 L1364.2,777.9 L1368.2,778.2 L1372.2,778.5 L1376.2,778.8 L1380.2,779.1 L1384.2,779.4 L1388.2,779.7 L1392.2,780.0 L1396.2,780.3 L1400.2,780.6 L1404.2,780.9 L1408.2,781.2 L1412.2,781.5 L1416.2,781.8 L1420.2,782.1 L1424.2,782.4 L1428.3,782.7 L1432.3,783.0 L1436.3,783.3 L1440.3,783.6 L1444.3,783.9 L1448.3,784.2 L1452.3,784.5 L1456.3,784.8 L1460.3,785.1 L1464.3,785.4 L1468.3,785.7 L1472.3,786.0 L1476.3,786.3 L1480.3,786.6 L1484.3,786.9 L1488.4,787.2 L1492.4,787.5 L1496.4,787.8 L1500.4,788.1 L1504.4,788.3 L1508.4,788.6 L1512.4,788.9 L1516.4,789.2 L1520.4,789.5 L1524.4,789.8 L1528.4,790.1 L1532.4,790.4 L1532.5,790.4"/><polygon points="1532.2,795.1 1545.8,791.4 1532.9,785.8"/>
<path d="M882.6,732.0 L880.4,732.6 L876.5,733.7 L872.6,734.7 L868.7,735.8 L864.8,736.8 L860.9,737.9 L857.0,738.9 L853.1,740.0 L849.2,741.0 L845.3,742.1 L841.4,743.1 L837.5,744.2 L833.6,745.3 L829.7,746.3 L825.8,747.4 L821.8,748.4 L817.9,749.5 L814.0,750.5 L810.1,751.6 L806.2,752.6 L802.3,753.7 L798.4,754.7 L794.5,755.8 L790.6,756.8 L786.7,757.9 L782.8,758.9 L778.9,760.0 L775.0,761.0 L771.1,762.1 L767.2,763.1 L763.3,764.2 L759.4,765.2 L755.5,766.3 L751.5,767.3 L747.6,768.4 L743.7,769.4 L739.8,770.5 L735.9,771.6 L732.0,772.6 L728.1,773.7 L724.2,774.7 L720.3,775.8 L716.4,776.8 L712.5,777.9 L708.6,778.9 L704.7,780.0 L700.8,781.0 L696.9,782.1 L694.2,782.8"/><polygon points="693.0,778.3 681.3,786.3 695.4,787.3"/>
<path d="M911.9,732.7 L911.7,732.9 L908.6,735.5 L905.4,738.0 L902.3,740.6 L899.2,743.2 L896.1,745.8 L892.9,748.3 L889.8,750.9 L886.7,753.5 L883.6,756.1 L880.4,758.6 L877.3,761.2 L874.2,763.8 L871.1,766.4 L867.9,768.9 L864.8,771.5 L862.4,773.6"/><polygon points="859.4,770.0 852.1,782.0 865.3,777.2"/>
<path d="M925.9,732.7 L925.5,736.6 L925.1,740.8 L924.6,744.9 L924.2,749.0 L923.7,753.2 L923.3,757.4 L922.9,761.5 L922.4,765.6 L922.1,768.8"/><polygon points="917.4,768.3 920.7,782.0 926.7,769.3"/>
<path d="M942.7,732.7 L942.9,732.9 L946.1,735.5 L949.2,738.0 L952.3,740.6 L955.4,743.2 L958.6,745.8 L961.7,748.3 L964.8,750.9 L968.0,753.5 L971.1,756.1 L974.2,758.6 L977.3,761.2 L980.5,763.8 L983.6,766.4 L986.7,768.9 L989.9,771.5 L992.3,773.6"/><polygon points="989.4,777.2 1002.6,782.0 995.3,770.0"/>
<path d="M1157.3,732.7 L1156.0,733.3 L1152.2,734.9 L1148.5,736.6 L1144.8,738.3 L1141.1,739.9 L1137.3,741.6 L1133.6,743.2 L1129.9,744.9 L1126.1,746.6 L1122.4,748.2 L1118.7,749.9 L1115.0,751.5 L1111.2,753.2 L1107.5,754.9 L1103.8,756.5 L1100.0,758.2 L1096.3,759.8 L1092.6,761.5 L1088.8,763.2 L1085.1,764.8 L1081.4,766.5 L1077.7,768.1 L1073.9,769.8 L1070.2,771.5 L1066.5,773.1 L1062.7,774.8 L1059.0,776.4 L1058.6,776.6"/><polygon points="1056.7,772.3 1046.5,782.0 1060.5,780.9"/>
<path d="M1211.3,732.7 L1214.5,734.2 L1218.1,736.0 L1221.7,737.8 L1225.2,739.6 L1228.8,741.3 L1232.4,743.1 L1236.0,744.9 L1239.6,746.7 L1243.2,748.5 L1246.8,750.2 L1250.3,752.0 L1253.9,753.8 L1257.5,755.6 L1261.1,757.4 L1264.7,759.1 L1268.3,760.9 L1271.9,762.7 L1275.4,764.5 L1279.0,766.2 L1282.6,768.0 L1286.2,769.8 L1289.8,771.6 L1293.4,773.4 L1297.0,775.1 L1298.9,776.1"/><polygon points="1296.8,780.3 1310.9,782.0 1301.0,771.9"/>
<path d="M1273.1,730.0 L1273.3,730.0 L1277.3,730.5 L1281.2,730.9 L1285.2,731.4 L1289.2,731.8 L1293.2,732.3 L1297.1,732.8 L1301.1,733.2 L1305.1,733.7 L1309.1,734.1 L1313.0,734.6 L1317.0,735.0 L1321.0,735.5 L1325.0,735.9 L1328.9,736.4 L1332.9,736.9 L1336.9,737.3 L1340.9,737.8 L1344.8,738.2 L1348.8,738.7 L1352.8,739.1 L1356.8,739.6 L1360.8,740.0 L1364.7,740.5 L1368.7,741.0 L1372.7,741.4 L1376.7,741.9 L1380.6,742.3 L1384.6,742.8 L1388.6,743.2 L1392.6,743.7 L1396.5,744.1 L1400.5,744.6 L1404.5,745.1 L1408.5,745.5 L1412.4,746.0 L1416.4,746.4 L1420.4,746.9 L1424.4,747.3 L1428.3,747.8 L1432.3,748.2 L1436.3,748.7 L1440.3,749.2 L1444.3,749.6 L1448.2,750.1 L1452.2,750.5 L1456.2,751.0 L1460.2,751.4 L1464.1,751.9 L1468.1,752.3 L1472.1,752.8 L1476.1,753.3 L1480.0,753.7 L1484.0,754.2 L1488.0,754.6 L1492.0,755.1 L1495.9,755.5 L1499.9,756.0 L1503.9,756.4 L1507.9,756.9 L1511.9,757.4 L1515.8,757.8 L1519.8,758.3 L1523.8,758.7 L1527.8,759.2 L1531.7,759.6 L1535.7,760.1 L1539.7,760.5 L1543.7,761.0 L1547.6,761.4 L1551.6,761.9 L1555.6,762.4 L1559.6,762.8 L1563.5,763.3 L1567.5,763.7 L1571.5,764.2 L1575.5,764.6 L1579.4,765.1 L1583.4,765.5 L1587.4,766.0 L1591.4,766.5 L1595.4,766.9 L1599.3,767.4 L1603.3,767.8 L1607.3,768.3 L1611.3,768.7 L1615.2,769.2 L1619.2,769.6 L1623.2,770.1 L1627.2,770.6 L1631.1,771.0 L1635.1,771.5 L1639.1,771.9 L1643.1,772.4 L1647.0,772.8 L1651.0,773.3 L1655.0,773.7 L1659.0,774.2 L1662.9,774.7 L1666.9,775.1 L1670.9,775.6 L1674.9,776.0 L1678.9,776.5 L1682.8,776.9 L1686.8,777.4 L1690.8,777.8 L1694.8,778.3 L1698.7,778.8 L1702.7,779.2 L1706.7,779.7 L1710.7,780.1 L1714.6,780.6 L1718.6,781.0 L1722.6,781.5 L1726.6,781.9 L1730.5,782.4 L1734.5,782.9 L1738.5,783.3 L1742.5,783.8 L1746.4,784.2 L1750.4,784.7 L1754.4,785.1 L1758.4,785.6 L1762.4,786.0 L1766.3,786.5 L1770.3,787.0 L1774.3,787.4 L1778.3,787.9 L1782.2,788.3 L1786.2,788.8 L1790.2,789.2 L1791.3,789.4"/><polygon points="1790.8,794.0 1804.6,790.9 1791.9,784.7"/>
<path d="M524.0,800.5 L523.5,800.5 L519.5,801.2 L515.5,801.8 L511.5,802.5 L507.5,803.1 L503.6,803.8 L499.6,804.4 L495.6,805.1 L491.6,805.7 L487.6,806.4 L483.7,807.0 L479.7,807.7 L475.7,808.3 L471.7,809.0 L467.7,809.6 L463.8,810.3 L459.8,810.9 L455.8,811.6 L451.8,812.2 L447.8,812.9 L443.9,813.5 L439.9,814.2 L435.9,814.8 L431.9,815.5 L427.9,816.1 L424.0,816.8 L420.0,817.4 L416.0,818.1 L412.0,818.7 L408.0,819.4 L404.0,820.0 L400.1,820.6 L396.1,821.3 L392.1,821.9 L388.1,822.6 L384.1,823.2 L380.2,823.9 L376.2,824.5 L372.2,825.2 L368.2,825.8 L364.2,826.5 L360.3,827.1 L356.3,827.8 L352.3,828.4 L348.3,829.1 L344.3,829.7 L340.4,830.4 L336.4,831.0 L332.4,831.7 L328.4,832.3 L324.4,833.0 L320.4,833.6 L316.5,834.3 L312.5,834.9 L308.5,835.6 L304.5,836.2 L300.5,836.9 L296.6,837.5 L292.6,838.2 L288.6,838.8 L284.6,839.5 L280.6,840.1 L276.7,840.8 L272.7,841.4 L268.7,842.1 L264.7,842.7 L260.7,843.4 L256.8,844.0 L252.8,844.6 L248.8,845.3 L244.8,845.9 L240.8,846.6 L236.8,847.2 L232.9,847.9 L228.9,848.5 L224.9,849.2 L220.9,849.8 L216.9,850.5 L213.0,851.1 L209.0,851.8 L205.0,852.4 L201.0,853.1 L197.0,853.7 L193.1,854.4 L189.1,855.0 L185.1,855.7 L181.1,856.3 L177.1,857.0 L173.2,857.6 L169.2,858.3 L165.3,858.9"/><polygon points="164.6,854.3 152.2,861.0 166.1,863.5"/>
<path d="M568.6,807.4 L568.8,807.7 L571.2,810.9 L573.6,814.2 L575.9,817.4 L578.3,820.6 L580.7,823.9 L583.1,827.1 L585.5,830.4 L587.8,833.6 L590.2,836.9 L592.6,840.1 L595.0,843.4 L596.8,845.9"/><polygon points="593.1,848.6 604.7,856.6 600.6,843.1"/>
<path d="M594.6,807.2 L597.6,808.3 L601.4,809.6 L605.3,811.0 L609.1,812.3 L612.9,813.7 L616.8,815.0 L620.6,816.4 L624.4,817.8 L628.3,819.1 L632.1,820.5 L635.9,821.8 L639.7,823.2 L643.6,824.5 L647.4,825.9 L651.2,827.3 L655.1,828.6 L658.9,830.0 L662.7,831.3 L666.6,832.7 L670.4,834.0 L674.2,835.4 L678.1,836.7 L681.9,838.1 L685.7,839.5 L689.6,840.8 L693.4,842.2 L697.2,843.5 L701.0,844.9 L704.9,846.2 L708.7,847.6 L712.5,849.0 L716.4,850.3 L720.2,851.7 L721.7,852.2"/><polygon points="720.1,856.6 734.2,856.6 723.2,847.8"/>
</g>
<rect x="1249.90" y="5.97" width="184.00" height="54.67" fill="#bfbfbf" stroke="#000" stroke-width="1.33"/>
<text x="1260.57" y="21.97">/root/ACloudViewer</text>
<text x="1260.57" y="36.63">/plugins/core/IO/qMeshIO</text>
<text x="1341.90" y="51.30" text-anchor="middle">/src/AssimpIfc.cpp</text>
<rect x="1165.87" y="110.03" width="98.67" height="25.33" fill="#fff" stroke="#000" stroke-width="1.33"/>
<text x="1215.20" y="126.03" text-anchor="middle">AssimpIfc.h</text>
<rect x="1379.67" y="110.03" width="134.67" height="25.33" fill="#fff" stroke="#bfbfbf" stroke-width="1.33"/>
<text x="1447.00" y="126.03" text-anchor="middle">QCoreApplication</text>
<rect x="947.17" y="184.63" width="142.67" height="25.33" fill="#fff" stroke="#000" stroke-width="1.33"/>
<text x="1018.50" y="200.63" text-anchor="middle">IoAbstractLoader.h</text>
<rect x="1138.03" y="184.63" width="153.33" height="25.33" fill="#fff" stroke="#bfbfbf" stroke-width="1.33"/>
<text x="1214.70" y="200.63" text-anchor="middle">QRegularExpression</text>
<rect x="919.17" y="259.33" width="102.66" height="25.33" fill="#fff" stroke="#000" stroke-width="1.33"/>
<text x="970.50" y="275.33" text-anchor="middle">FileIOFilter.h</text>
<rect x="915.83" y="334.03" width="109.33" height="25.33" fill="#fff" stroke="#000" stroke-width="1.33"/>
<text x="970.50" y="350.03" text-anchor="middle">ecvHObject.h</text>
<rect x="883.33" y="408.63" width="161.34" height="25.33" fill="#fff" stroke="#000" stroke-width="1.33"/>
<text x="964.00" y="424.63" text-anchor="middle">ecvDrawableObject.h</text>
<rect x="440.53" y="483.33" width="189.33" height="25.33" fill="#fff" stroke="#000" stroke-width="1.33"/>
<text x="535.20" y="499.33" text-anchor="middle">ecvGenericDisplayTools.h</text>
<rect x="887.77" y="483.33" width="142.67" height="25.33" fill="#fff" stroke="#f00" stroke-width="1.33"/>
<text x="959.10" y="499.33" text-anchor="middle">ecvDrawContext.h</text>
<rect x="1226.97" y="483.33" width="98.67" height="25.33" fill="#fff" stroke="#000" stroke-width="1.33"/>
<text x="1276.30" y="499.33" text-anchor="middle">ecvObject.h</text>
<rect x="236.50" y="558.03" width="184.00" height="25.33" fill="#fff" stroke="#000" stroke-width="1.33"/>
<text x="328.50" y="574.03" text-anchor="middle">ecvGlobalShiftManager.h</text>
<rect x="597.20" y="558.03" width="116.00" height="25.33" fill="#fff" stroke="#000" stroke-width="1.33"/>
<text x="655.20" y="574.03" text-anchor="middle">ecvGLMatrix.h</text>
<rect x="839.93" y="558.03" width="65.33" height="25.33" fill="#fff" stroke="#bfbfbf" stroke-width="1.33"/>
<text x="872.60" y="574.03" text-anchor="middle">QPoint</text>
<rect x="929.30" y="558.03" width="60.00" height="25.33" fill="#fff" stroke="#bfbfbf" stroke-width="1.33"/>
<text x="959.30" y="574.03" text-anchor="middle">QFont</text>
<rect x="1013.13" y="558.03" width="73.33" height="25.33" fill="#fff" stroke="#bfbfbf" stroke-width="1.33"/>
<text x="1049.80" y="574.03" text-anchor="middle">QImage</text>
<rect x="1313.70" y="558.03" width="128.00" height="25.33" fill="#fff" stroke="#000" stroke-width="1.33"/>
<text x="1377.70" y="574.03" text-anchor="middle">ecvColorTypes.h</text>
<rect x="1465.67" y="558.03" width="122.67" height="25.33" fill="#fff" stroke="#bfbfbf" stroke-width="1.33"/>
<text x="1527.00" y="574.03" text-anchor="middle">QSharedPointer</text>
<rect x="1613.17" y="558.03" width="78.67" height="25.33" fill="#fff" stroke="#bfbfbf" stroke-width="1.33"/>
<text x="1652.50" y="574.03" text-anchor="middle">QVariant</text>
<rect x="1990.00" y="558.03" width="120.00" height="25.33" fill="#fff" stroke="#000" stroke-width="1.33"/>
<text x="2050.00" y="574.03" text-anchor="middle">BoundingBox.h</text>
<rect x="237.27" y="632.63" width="70.67" height="25.33" fill="#fff" stroke="#000" stroke-width="1.33"/>
<text x="272.60" y="648.63" text-anchor="middle">CV_io.h</text>
<rect x="383.77" y="632.63" width="70.67" height="25.33" fill="#fff" stroke="#bfbfbf" stroke-width="1.33"/>
<text x="419.10" y="648.63" text-anchor="middle">QString</text>
<rect x="479.17" y="632.63" width="74.67" height="25.33" fill="#fff" stroke="#000" stroke-width="1.33"/>
<text x="516.50" y="648.63" text-anchor="middle">CV_db.h</text>
<rect x="628.40" y="632.63" width="80.00" height="25.33" fill="#fff" stroke="#bfbfbf" stroke-width="1.33"/>
<text x="668.40" y="648.63" text-anchor="middle">iostream</text>
<rect x="935.20" y="632.63" width="136.00" height="25.33" fill="#fff" stroke="#f00" stroke-width="1.33"/>
<text x="1003.20" y="648.63" text-anchor="middle">ecvGLMatrixTpl.h</text>
<rect x="1197.03" y="632.63" width="121.33" height="25.33" fill="#fff" stroke="#000" stroke-width="1.33"/>
<text x="1257.70" y="648.63" text-anchor="middle">SquareMatrix.h</text>
<rect x="1444.67" y="632.63" width="66.67" height="25.33" fill="#fff" stroke="#bfbfbf" stroke-width="1.33"/>
<text x="1478.00" y="648.63" text-anchor="middle">QColor</text>
<rect x="1535.03" y="632.63" width="85.33" height="25.33" fill="#fff" stroke="#bfbfbf" stroke-width="1.33"/>
<text x="1577.70" y="648.63" text-anchor="middle">Logging.h</text>
<rect x="1644.50" y="632.63" width="72.00" height="25.33" fill="#fff" stroke="#bfbfbf" stroke-width="1.33"/>
<text x="1680.50" y="648.63" text-anchor="middle">random</text>
<rect x="1741.10" y="632.63" width="92.00" height="25.33" fill="#fff" stroke="#bfbfbf" stroke-width="1.33"/>
<text x="1787.10" y="648.63" text-anchor="middle">type_traits</text>
<rect x="2009.73" y="632.63" width="141.33" height="25.33" fill="#fff" stroke="#bfbfbf" stroke-width="1.33"/>
<text x="2080.40" y="648.63" text-anchor="middle">Eigen/Eigenvalues</text>
<rect x="2175.47" y="632.63" width="74.67" height="25.33" fill="#fff" stroke="#bfbfbf" stroke-width="1.33"/>
<text x="2212.80" y="648.63" text-anchor="middle">numeric</text>
<rect x="5.17" y="707.33" width="102.66" height="25.33" fill="#fff" stroke="#000" stroke-width="1.33"/>
<text x="56.50" y="723.33" text-anchor="middle">CVToolbox.h</text>
<rect x="331.40" y="707.33" width="128.00" height="25.33" fill="#fff" stroke="#bfbfbf" stroke-width="1.33"/>
<text x="395.40" y="723.33" text-anchor="middle">QtCore/QtGlobal</text>
<rect x="767.27" y="707.33" width="90.67" height="25.33" fill="#fff" stroke="#000" stroke-width="1.33"/>
<text x="812.60" y="723.33" text-anchor="middle">CVGeom.h</text>
<rect x="882.63" y="707.33" width="89.33" height="25.33" fill="#fff" stroke="#000" stroke-width="1.33"/>
<text x="927.30" y="723.33" text-anchor="middle">CVConst.h</text>
<rect x="1098.47" y="707.33" width="174.66" height="25.33" fill="#fff" stroke="#f00" stroke-width="1.33"/>
<text x="1185.80" y="723.33" text-anchor="middle">ecvSerializableObject.h</text>
<rect x="1297.77" y="707.33" width="66.67" height="25.33" fill="#fff" stroke="#bfbfbf" stroke-width="1.33"/>
<text x="1331.10" y="723.33" text-anchor="middle">cstring</text>
<rect x="1388.43" y="707.33" width="61.33" height="25.33" fill="#fff" stroke="#bfbfbf" stroke-width="1.33"/>
<text x="1419.10" y="723.33" text-anchor="middle">cstdio</text>
<rect x="523.97" y="782.03" width="70.67" height="25.33" fill="#fff" stroke="#f00" stroke-width="1.33"/>
<text x="559.30" y="798.03" text-anchor="middle">Eigen.h</text>
<rect x="618.67" y="782.03" width="62.67" height="25.33" fill="#fff" stroke="#bfbfbf" stroke-width="1.33"/>
<text x="650.00" y="798.03" text-anchor="middle">cmath</text>
<rect x="807.37" y="782.03" width="58.67" height="25.33" fill="#fff" stroke="#bfbfbf" stroke-width="1.33"/>
<text x="836.70" y="798.03" text-anchor="middle">limits</text>
<rect x="889.97" y="782.03" width="58.67" height="25.33" fill="#fff" stroke="#bfbfbf" stroke-width="1.33"/>
<text x="919.30" y="798.03" text-anchor="middle">cfloat</text>
<rect x="973.33" y="782.03" width="89.33" height="25.33" fill="#fff" stroke="#f00" stroke-width="1.33"/>
<text x="1018.00" y="798.03" text-anchor="middle">CVTypes.h</text>
<rect x="1301.73" y="782.03" width="69.33" height="25.33" fill="#fff" stroke="#bfbfbf" stroke-width="1.33"/>
<text x="1336.40" y="798.03" text-anchor="middle">cassert</text>
<rect x="1545.83" y="782.03" width="85.33" height="25.33" fill="#fff" stroke="#bfbfbf" stroke-width="1.33"/>
<text x="1588.50" y="798.03" text-anchor="middle">algorithm</text>
<rect x="1804.57" y="782.03" width="66.67" height="25.33" fill="#fff" stroke="#bfbfbf" stroke-width="1.33"/>
<text x="1837.90" y="798.03" text-anchor="middle">cstdint</text>
<rect x="50.83" y="856.63" width="101.34" height="25.33" fill="#fff" stroke="#f00" stroke-width="1.33"/>
<text x="101.50" y="872.63" text-anchor="middle">CVCoreLib.h</text>
<rect x="582.67" y="856.63" width="62.67" height="25.33" fill="#fff" stroke="#bfbfbf" stroke-width="1.33"/>
<text x="614.00" y="872.63" text-anchor="middle">vector</text>
<rect x="724.00" y="856.63" width="92.00" height="25.33" fill="#fff" stroke="#bfbfbf" stroke-width="1.33"/>
<text x="770.00" y="872.63" text-anchor="middle">Eigen/Core</text>
</svg></body></html>
